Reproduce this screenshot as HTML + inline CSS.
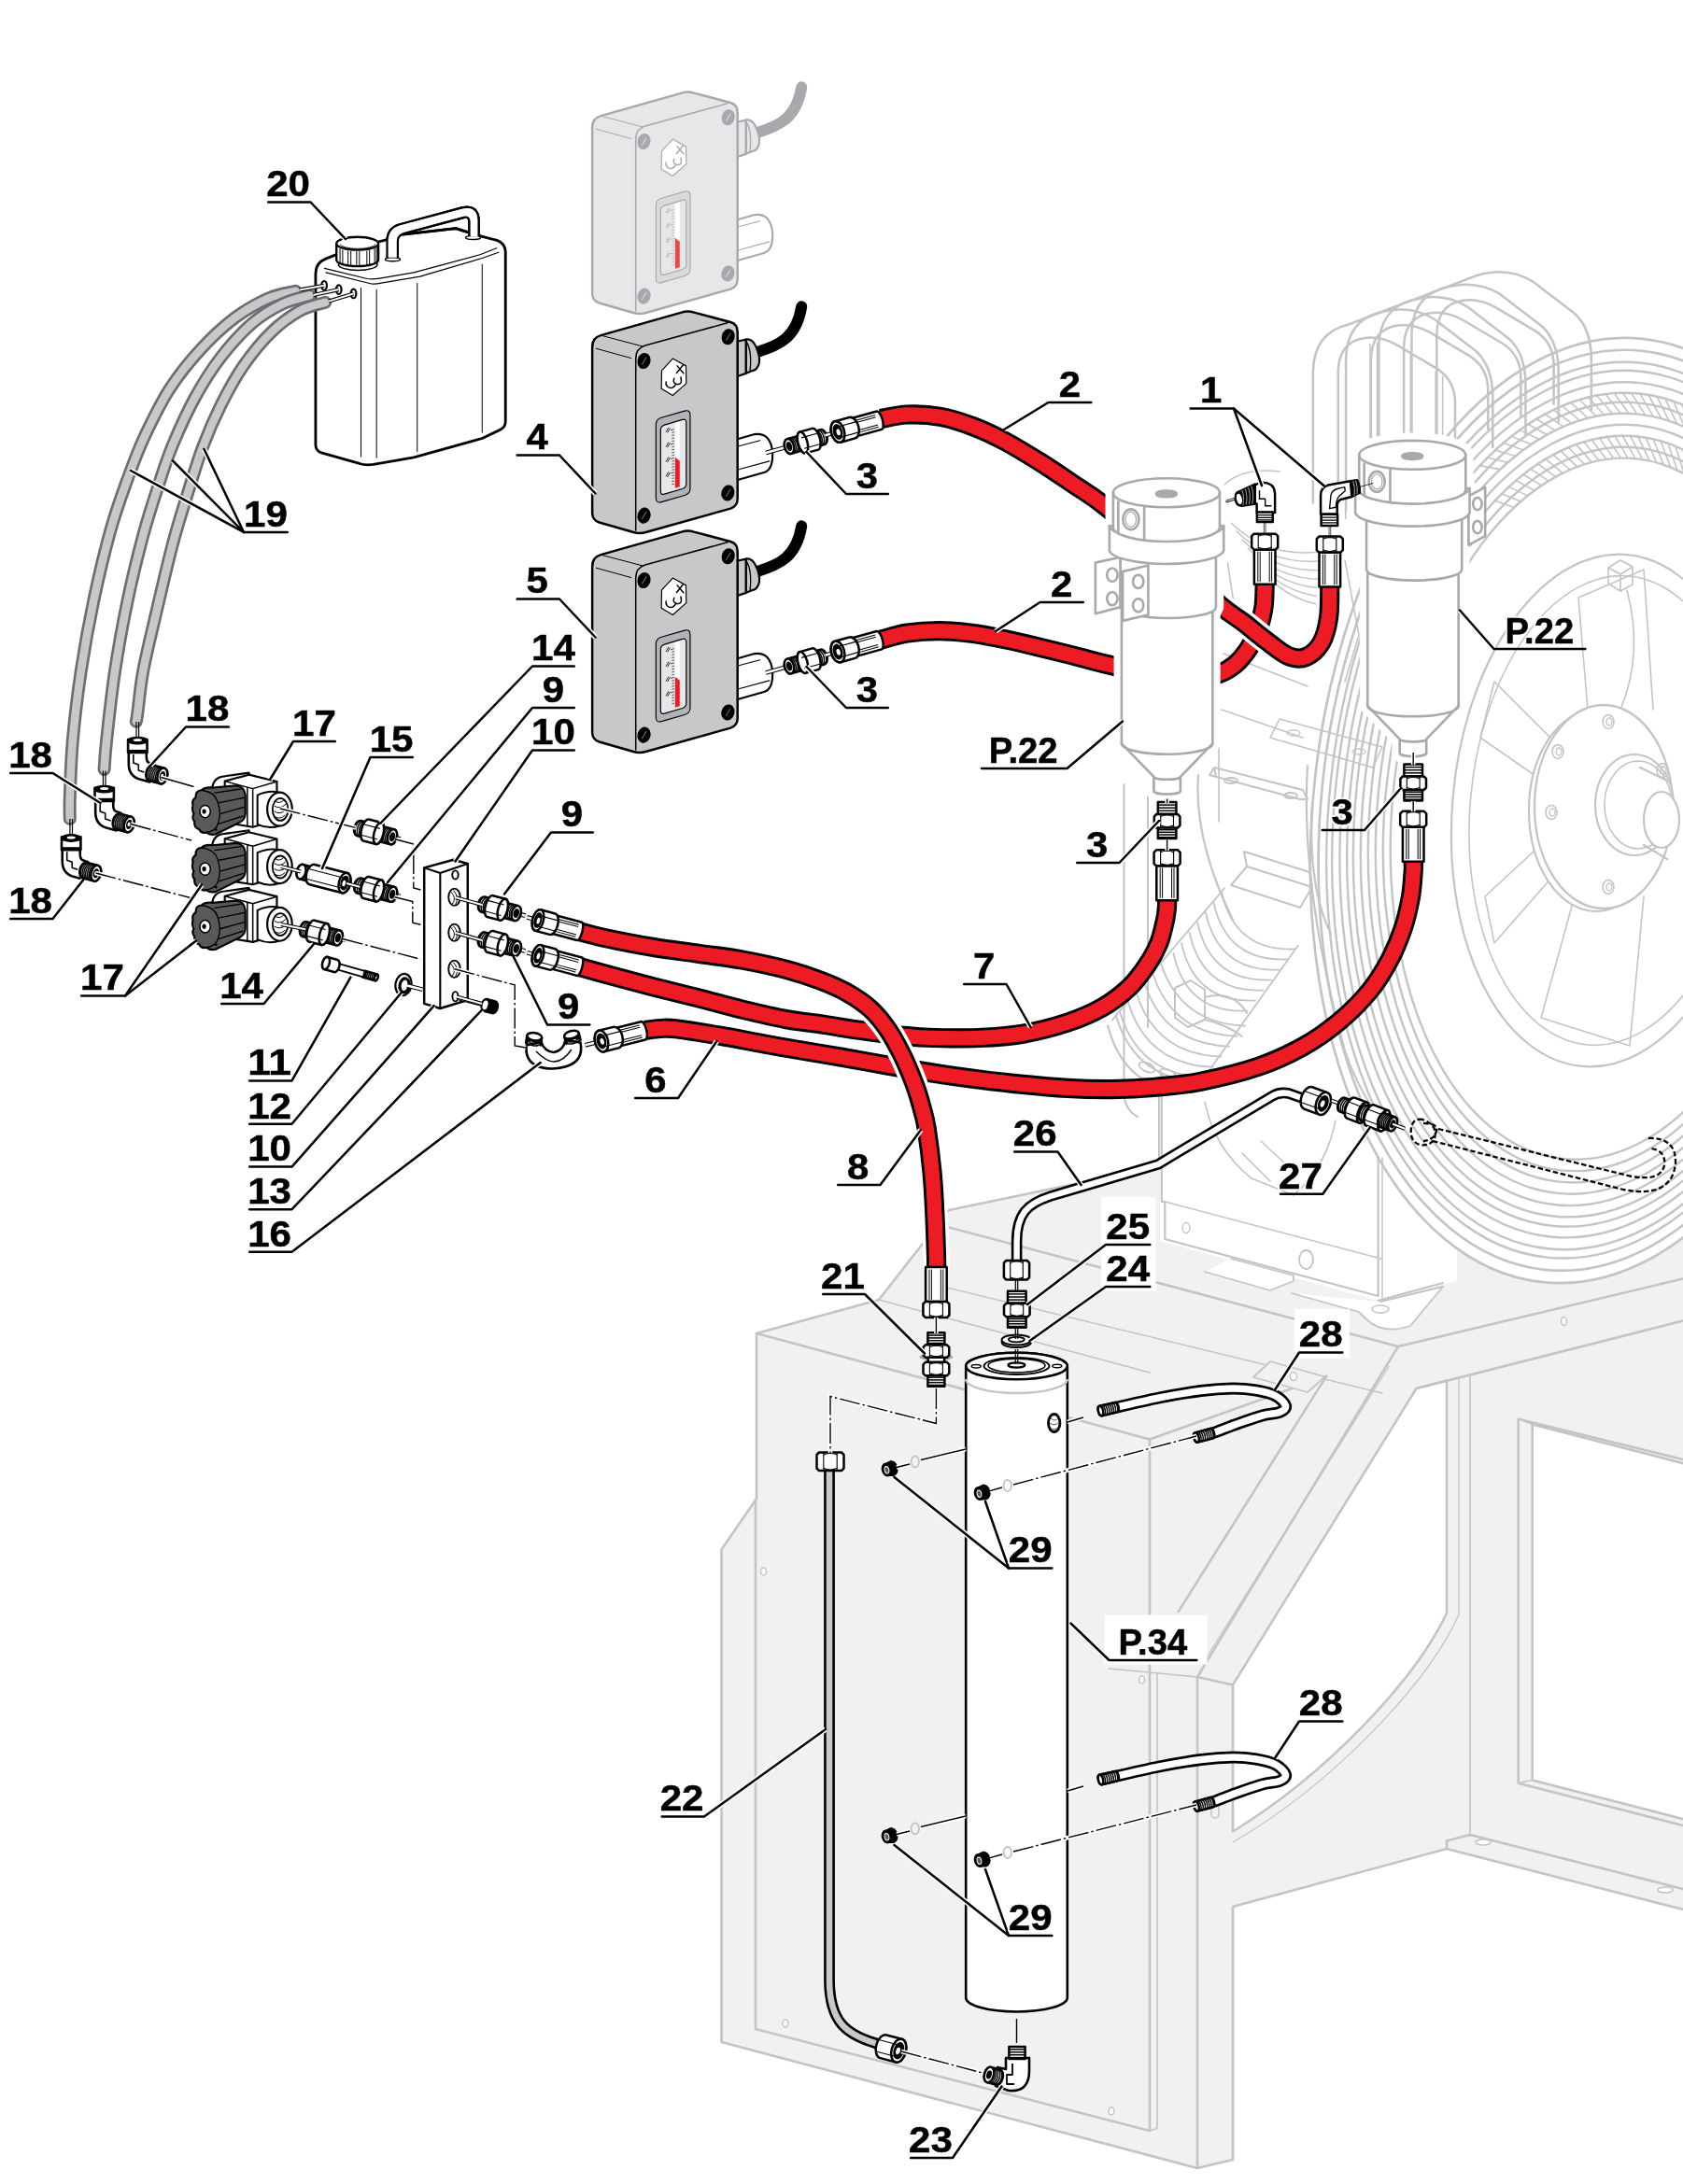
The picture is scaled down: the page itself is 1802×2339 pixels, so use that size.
<!DOCTYPE html>
<html><head><meta charset="utf-8"><title>Parts diagram</title>
<style>
html,body{margin:0;padding:0;background:#fff;}
svg{display:block;will-change:transform;font-family:"Liberation Sans",sans-serif;font-weight:bold;}
.k{stroke:#000;fill:none;stroke-linecap:round;stroke-linejoin:round;}
.g{stroke:#c3c4c6;fill:none;stroke-linecap:round;stroke-linejoin:round;}
</style></head><body>
<svg xmlns="http://www.w3.org/2000/svg" width="1802" height="2339" viewBox="0 0 1802 2339">
<rect width="1802" height="2339" fill="#fff"/>
<!-- ===== FRAME (gray background) ===== -->
<g id="frame" stroke="#c3c4c6" stroke-width="2.6" stroke-linejoin="round" stroke-linecap="round" fill="#f1f1f1">
  <!-- overall silhouette -->
  <path d="M810,1428 L941,1392 L1016,1296 L1242,1249 L1815,1240 L1815,2048.3 L1549,1980 L1320,2042 L1320,2313 L1282,2322 L772.5,2187 L772.5,1659.5 L810,1605 Z"/>
  <!-- white openings -->
  <path d="M1320,1804.5 L1516.5,1487 L1549,1478.5 L1549,1727.5 C1515,1800 1420,1900 1320,1961.5 Z" fill="#fff"/>
  <path d="M1640.7,1525.4 L1815,1570.4 L1815,1951.4 L1640.7,1906.4 Z" fill="#fff"/>
  <g fill="none">
    <!-- front face lines -->
    <path d="M810,1428 L1231,1541.5 L1418.5,1474.5"/>
    <path d="M1231,1541.5 L1231,2282 L809,2173 L809,1606"/>
    <path d="M1239,1792 L1239,2279.5 L1231,2282" stroke-width="1.6"/>
    <path d="M1282,1796 L1282,2322"/>
    <path d="M1282,1796 L1320,1804.5"/>
    <!-- brace diagonals -->
    <path d="M1282,1796 L1497,1442"/>
    <path d="M1261.7,1726 L1420.3,1473.6" />
    <path d="M1290,1778 L1487,1463.5" stroke-width="1.2"/>
    <path d="M1187,1787 L1282,1796" stroke-width="1.6"/>
    <!-- top surface lines -->
    <path d="M941,1392 L1231,1470" stroke-width="1.6"/>
    <path d="M1016,1314.5 L1497,1442" />
    <path d="M1006,1377 L1480,1492" stroke-width="1.4"/>
    <!-- beam to the right -->
    <path d="M1497,1442 L1802,1369.5"/>
    <path d="M1516.5,1487 L1802,1414.5"/>
    <!-- gusset thin lines -->
    <path d="M1562,1475 L1562,1729 C1528,1805 1425,1912 1320,1973" stroke-width="1.3"/>
    <path d="M1574,1473 L1574,1966.5" stroke-width="1.6"/>
    <!-- right window inner frame -->
    <path d="M1625.7,1519.7 L1802,1563 M1625.7,1519.7 L1625.7,1909.7 L1802,1955" />
    <path d="M1625.7,1519.7 L1640.7,1525.4 M1625.7,1909.7 L1640.7,1906.4" stroke-width="1.4"/>
    <!-- bottom flange -->
    <path d="M1549,1971.5 L1574,1965 L1802,2023"/>
    <path d="M1549,1971.5 L1549,1980"/>
  </g>
  <!-- small plate w/ hole on top -->
  <path d="M1360,1458 L1418.5,1474.5 L1400,1491 L1342,1475 Z" fill="#f1f1f1" stroke-width="1.8"/>
  <g fill="#fff" stroke-width="1.5">
    <ellipse cx="1385" cy="1474" rx="3.5" ry="4.5"/>
    <ellipse cx="817.5" cy="1683" rx="3" ry="4"/>
    <ellipse cx="841" cy="2167" rx="3" ry="4"/>
    <ellipse cx="1190" cy="2261" rx="3" ry="4"/>
    <ellipse cx="1222.5" cy="1799" rx="3" ry="4"/>
    <ellipse cx="1674.5" cy="1415" rx="3" ry="4.5"/>
    <ellipse cx="1588" cy="1973" rx="8" ry="3"/>
    <ellipse cx="1783" cy="2024" rx="8" ry="3"/>
    <path d="M1297,1931 L1297,1943 A4,4 0 0 0 1305,1943 L1305,1931 A4,4 0 0 0 1297,1931Z" fill="none"/>
  </g>
</g>

<!-- compressor (gray background) -->
<g id="compressor" stroke="#c3c4c6" stroke-width="2.2" fill="none" stroke-linejoin="round" stroke-linecap="round">
<ellipse cx="1705" cy="868" rx="299" ry="508" transform="rotate(6.04 1705 868)" fill="#fff" stroke="none"/>
<path d="M1242,1153 L1242,1329 L1475,1393 L1560,1372 L1560,1100 L1400,1000 Z" fill="#fff" stroke="none"/>
<path d="M1243.8,1150 L1243.8,1287 L1247.3,1287 L1247.3,1327 L1475.6,1388 L1475.6,1240" />
<path d="M1247.3,1287 L1479.6,1348.3" stroke-width="1.5"/>
<path d="M1475,1393 L1545,1374" />
<path d="M1480,1240 L1480,1390" stroke-width="1.5"/>
<ellipse cx="1270" cy="1315" rx="4" ry="5.5" stroke-width="1.5"/><ellipse cx="1398.5" cy="1349" rx="7.5" ry="10" stroke-width="1.8"/>
<path d="M1290,1362 L1360,1382 L1385,1372 L1385,1366 L1318,1348" fill="#fff" stroke-width="1.8"/>
<path d="M1383,1385 L1455,1405 L1462,1412 Q1480,1430 1510,1420 L1545,1378 L1478,1394" fill="#fff" stroke-width="1.8"/>
<ellipse cx="1478" cy="1402" rx="9" ry="4" stroke-width="1.5"/>
<ellipse cx="1705.0" cy="868.0" rx="299.0" ry="508.0" transform="rotate(6.04 1705 868)" stroke-width="2.7"/>
<ellipse cx="1705.8" cy="867.7" rx="291.2" ry="494.8" transform="rotate(6.04 1705 868)" stroke-width="2.7"/>
<ellipse cx="1706.6" cy="867.5" rx="283.5" ry="481.6" transform="rotate(6.04 1705 868)" stroke-width="2.4"/>
<ellipse cx="1707.1" cy="867.3" rx="278.1" ry="472.4" transform="rotate(6.04 1705 868)" stroke-width="2.4"/>
<ellipse cx="1707.8" cy="867.0" rx="270.6" ry="459.7" transform="rotate(6.04 1705 868)" stroke-width="2.4"/>
<ellipse cx="1708.5" cy="866.8" rx="263.7" ry="448.1" transform="rotate(6.04 1705 868)" stroke-width="2.4"/>
<ellipse cx="1709.1" cy="866.6" rx="257.7" ry="437.9" transform="rotate(6.04 1705 868)" stroke-width="2.4"/>
<ellipse cx="1709.9" cy="866.4" rx="250.6" ry="425.7" transform="rotate(6.04 1705 868)" stroke-width="2.4"/>
<ellipse cx="1710.6" cy="866.1" rx="243.4" ry="413.5" transform="rotate(6.04 1705 868)" stroke-width="2.4"/>
<ellipse cx="1711.3" cy="865.9" rx="236.2" ry="401.3" transform="rotate(6.04 1705 868)" stroke-width="2.4"/>
<ellipse cx="1712.0" cy="865.7" rx="229.0" ry="389.1" transform="rotate(6.04 1705 868)" stroke-width="2.4"/>
<ellipse cx="1712.7" cy="865.4" rx="221.9" ry="376.9" transform="rotate(6.04 1705 868)" stroke-width="2.4"/>
<ellipse cx="1718" cy="868" rx="163" ry="275" transform="rotate(5 1718 868)" fill="#fff" stroke-width="2.2"/>
<ellipse cx="1722" cy="868" rx="148" ry="252" transform="rotate(5 1722 868)" stroke-width="1.6"/>
<path d="M1650,835 L1585,790 L1600,730 L1660,790 M1655,900 L1590,960 L1600,1010 L1670,930 M1690,945 L1650,1090 L1745,1120 L1760,960 M1700,760 L1690,640 L1760,610 L1770,760" stroke-width="1.6"/>
<path d="M1722,625 L1722,608 L1735,600 L1748,607 L1748,626 L1735,633 Z M1722,608 L1735,615 L1748,607 M1735,615 L1735,633" stroke-width="1.6"/>
<path d="M1742,632 Q1760,700 1735,760" stroke-width="1.6"/>
<ellipse cx="1709" cy="868" rx="72" ry="108" fill="#fff" stroke-width="2.2"/>
<ellipse cx="1717" cy="864" rx="74" ry="109" fill="#fff" stroke-width="2.4"/>
<ellipse cx="1750" cy="862" rx="42" ry="54" fill="#fff" stroke-width="2"/>
<ellipse cx="1754" cy="862" rx="36" ry="47" stroke-width="1.5"/>
<path d="M1756,822 L1785,836 M1760,905 L1785,920" stroke-width="2.2"/>
<ellipse cx="1779" cy="878" rx="19" ry="30" fill="#fff" stroke-width="2.2"/>
<ellipse cx="1722" cy="773" rx="6" ry="7.5" stroke-width="1.6"/><ellipse cx="1723" cy="773" rx="3" ry="4" stroke-width="1.3"/><ellipse cx="1661" cy="870" rx="6" ry="7.5" stroke-width="1.6"/><ellipse cx="1662" cy="870" rx="3" ry="4" stroke-width="1.3"/><ellipse cx="1722" cy="950" rx="6" ry="7.5" stroke-width="1.6"/><ellipse cx="1723" cy="950" rx="3" ry="4" stroke-width="1.3"/><ellipse cx="1780" cy="825" rx="6" ry="7.5" stroke-width="1.6"/><ellipse cx="1781" cy="825" rx="3" ry="4" stroke-width="1.3"/><ellipse cx="1668" cy="805" rx="6" ry="7.5" stroke-width="1.6"/><ellipse cx="1669" cy="805" rx="3" ry="4" stroke-width="1.3"/>
<path d="M1584.2,498.6 L1605.6,502.6 M1592.5,490.0 L1613.8,495.2 M1601.0,481.9 L1622.0,488.2 M1609.5,474.3 L1630.3,481.8 M1618.2,467.1 L1638.8,475.8 M1627.0,460.4 L1647.3,470.2 M1635.9,454.2 L1655.9,465.2 M1644.9,448.5 L1664.6,460.6 M1654.0,443.3 L1673.3,456.6 M1663.1,438.6 L1682.0,453.0 M1672.3,434.5 L1690.8,449.9 M1681.6,430.9 L1699.7,447.4 M1690.8,427.8 L1708.5,445.3 M1700.1,425.2 L1717.3,443.8 M1709.4,423.2 L1726.2,442.8 M1718.7,421.7 L1735.0,442.3 M1728.0,420.8 L1743.7,442.3 M1737.3,420.4 L1752.5,442.8 M1746.5,420.6 L1761.2,443.9 M1755.7,421.3 L1769.8,445.4 M1764.8,422.5 L1778.3,447.5 M1773.9,424.3 L1786.8,450.1 M1782.8,426.6 L1795.2,453.2 M1791.7,429.4 L1803.4,456.8 M1800.5,432.8 L1811.6,460.9 M1600.0,536.1 L1620.5,543.3 M1607.4,528.4 L1627.6,536.7 M1615.0,521.1 L1634.9,530.6 M1622.6,514.3 L1642.3,524.9 M1630.4,507.8 L1649.8,519.5 M1638.3,501.9 L1657.3,514.6 M1646.3,496.3 L1665.0,510.2 M1654.3,491.2 L1672.6,506.1 M1662.5,486.6 L1680.3,502.5 M1670.6,482.4 L1688.1,499.4 M1678.9,478.7 L1695.9,496.7 M1687.1,475.4 L1703.7,494.4 M1695.4,472.6 L1711.5,492.6 M1703.8,470.4 L1719.4,491.2 M1712.1,468.6 L1727.2,490.3 M1720.4,467.2 L1735.0,489.9 M1728.7,466.4 L1742.7,489.9 M1737.0,466.0 L1750.5,490.4 M1745.3,466.2 L1758.2,491.3 M1753.5,466.8 L1765.8,492.7 M1761.7,467.9 L1773.4,494.5 M1769.8,469.5 L1780.9,496.8 M1777.9,471.6 L1788.3,499.6 M1785.8,474.2 L1795.6,502.8 M1793.7,477.2 L1802.8,506.4 M1801.4,480.7 L1809.9,510.4 " stroke-width="1.6"/>
<g transform="translate(1300,300) scale(0.29827)" stroke-width="8.5">
<path d="M355,800 L355,330 Q357,190 480,160 L590,118 Q700,85 790,140 L940,255 Q1000,310 1000,420 L1000,600"/><path d="M445,800 L445,330 Q447,222 540,208 Q600,200 660,235 L800,318 Q865,360 865,440 L865,580"/>
<path d="M473,855 L473,285 Q475,145 598,115 L708,73 Q818,40 908,95 L1058,210 Q1118,265 1118,375 L1118,555"/><path d="M563,755 L563,285 Q565,177 658,163 Q718,155 778,190 L918,273 Q983,315 983,395 L983,535"/>
<path d="M591,810 L591,240 Q593,100 716,70 L826,28 Q936,-5 1026,50 L1176,165 Q1236,220 1236,330 L1236,510"/><path d="M681,710 L681,240 Q683,132 776,118 Q836,110 896,145 L1036,228 Q1101,270 1101,350 L1101,490"/>
<path d="M709,765 L709,195 Q711,55 834,25 L944,-17 Q1054,-50 1144,5 L1294,120 Q1354,175 1354,285 L1354,465"/><path d="M799,665 L799,195 Q801,87 894,73 Q954,65 1014,100 L1154,183 Q1219,225 1219,305 L1219,445"/>
<path d="M560,800 L560,230 M585,800 L585,225 M680,800 L680,255 M705,800 L705,268 M795,800 L795,330 M820,800 L820,345" stroke-width="5"/>
</g>
<g stroke-width="1.8"><path d="M1386.9,1016.5 Q1321.6,1018.9 1308.0,955.1"/><path d="M1378.3,1027.5 Q1313.0,1030.0 1299.4,966.1"/><path d="M1369.7,1038.6 Q1304.5,1041.0 1290.8,977.1"/><path d="M1361.1,1049.6 Q1295.9,1052.0 1282.2,988.1"/><path d="M1352.5,1060.6 Q1287.3,1063.0 1273.7,999.2"/><path d="M1344.0,1071.6 Q1278.7,1074.0 1265.1,1010.2"/><path d="M1335.4,1082.6 Q1270.1,1085.1 1256.5,1021.2"/><path d="M1333.1,1098.6 Q1261.5,1096.1 1241.6,1027.3"/><path d="M1324.5,1109.6 Q1253.0,1107.1 1233.0,1038.3"/><path d="M1315.9,1120.6 Q1244.4,1118.1 1224.4,1049.3"/><path d="M1307.4,1131.6 Q1235.8,1129.1 1215.8,1060.4"/><path d="M1298.8,1142.7 Q1227.2,1140.2 1207.3,1071.4"/><path d="M1290.2,1153.7 Q1218.6,1151.2 1198.7,1082.4"/><path d="M1389.8,1012.7 L1282.2,1163.9 M1311.0,951.3 L1190.7,1092.7"/><path d="M1277.8,1169.6 Q1204.3,1169.5 1186.2,1098.4" stroke-width="2.2"/><path d="M1286.4,1158.6 Q1214.8,1156.1 1194.8,1087.3" stroke-width="2"/><ellipse cx="1228" cy="1143" rx="9" ry="4.5" transform="rotate(25 1228 1143)"/><ellipse cx="1250" cy="1150" rx="9" ry="4.5" transform="rotate(20 1250 1150)"/><path d="M1258,1058 L1258,1090 L1272,1100 L1290,1092 L1290,1060 L1275,1050 Z M1290,1068 Q1320,1060 1335,1085 M1290,1092 Q1315,1098 1330,1110" stroke-width="2"/><path d="M1318,948 L1335,928 L1405,950 L1392,972 Z M1335,928 L1332,912 L1402,934 L1405,950" stroke-width="2"/><path d="M1295,830 L1300,822 L1395,846 L1400,856 M1300,822 L1302,832 M1295,830 L1392,856 L1400,856" stroke-width="2"/><ellipse cx="1318" cy="836" rx="7" ry="3"/><ellipse cx="1382" cy="852" rx="7" ry="3"/><path d="M1283,830 Q1278,900 1320,985 M1405,860 Q1400,950 1425,1000 M1400,820 Q1392,950 1440,1125 Q1455,1170 1480,1200" stroke-width="2.2"/></g>
<g stroke-width="1.6"><path d="M1290,1180 Q1300,1230 1340,1262 L1385,1280 Q1420,1250 1430,1200 M1330,1235 L1360,1265 M1350,1222 L1380,1250"/></g>
<g stroke-width="1.6"><path d="M1318,560 Q1360,600 1420,590"/><path d="M1324,569 Q1364,608 1422,600"/><path d="M1330,578 Q1368,616 1424,610"/><path d="M1336,587 Q1372,624 1426,620"/><path d="M1342,596 Q1376,632 1428,630"/><path d="M1348,605 Q1380,640 1430,640"/><path d="M1354,614 Q1384,648 1432,650"/><path d="M1310,520 Q1330,500 1370,505 M1308,560 L1320,640 L1345,700 M1440,600 L1455,680 L1440,730"/></g>
<path d="M1305,690 L1305,880 M1310,700 L1400,735 M1308,760 L1395,790" stroke-width="1.6"/>
<path d="M1360,790 L1370,770 L1480,800 L1470,822 Z" stroke-width="1.6"/><ellipse cx="1385" cy="785" rx="7" ry="3" stroke-width="1.3"/><ellipse cx="1455" cy="805" rx="7" ry="3" stroke-width="1.3"/>
<path d="M1203.5,840 L1203.5,1175 Q1206,1190 1218,1196 M1229,850 L1229,1100 M1241,1170 L1241,1250" stroke-width="2"/>
</g>

<!-- hoses behind filters -->
<g id="hosesback">
<path d="M942.8,685.2 C947.5,684.0 960.6,679.7 971.3,678.1 C982.0,676.5 995.1,675.6 1007.0,675.7 C1018.9,675.8 1030.7,677.0 1042.6,678.6 C1054.5,680.2 1066.4,682.7 1078.3,685.2 C1090.2,687.7 1102.0,690.6 1113.9,693.5 C1125.8,696.4 1136.4,699.0 1149.6,702.3 C1162.8,705.6 1176.1,709.7 1192.8,713.3 C1209.5,716.9 1234.6,721.9 1250.0,724.0 C1265.4,726.1 1275.7,726.4 1285.0,726.0 C1294.3,725.6 1299.7,723.8 1305.9,721.4 C1312.1,719.0 1317.0,716.2 1322.1,711.9 C1327.2,707.5 1332.2,701.6 1336.4,695.3 C1340.6,689.0 1344.3,681.4 1347.1,673.9 C1349.9,666.4 1351.8,658.2 1353.0,650.1 C1354.2,642.0 1354.0,629.6 1354.2,625.5" fill="none" stroke="#000" stroke-width="21.2" stroke-linecap="butt"/>
<path d="M942.8,685.2 C947.5,684.0 960.6,679.7 971.3,678.1 C982.0,676.5 995.1,675.6 1007.0,675.7 C1018.9,675.8 1030.7,677.0 1042.6,678.6 C1054.5,680.2 1066.4,682.7 1078.3,685.2 C1090.2,687.7 1102.0,690.6 1113.9,693.5 C1125.8,696.4 1136.4,699.0 1149.6,702.3 C1162.8,705.6 1176.1,709.7 1192.8,713.3 C1209.5,716.9 1234.6,721.9 1250.0,724.0 C1265.4,726.1 1275.7,726.4 1285.0,726.0 C1294.3,725.6 1299.7,723.8 1305.9,721.4 C1312.1,719.0 1317.0,716.2 1322.1,711.9 C1327.2,707.5 1332.2,701.6 1336.4,695.3 C1340.6,689.0 1344.3,681.4 1347.1,673.9 C1349.9,666.4 1351.8,658.2 1353.0,650.1 C1354.2,642.0 1354.0,629.6 1354.2,625.5" fill="none" stroke="#ed1c24" stroke-width="15.4" stroke-linecap="butt"/>
<path d="M942.8,448.7 C947.5,447.9 960.6,444.4 971.3,444.0 C982.0,443.6 995.1,444.1 1007.0,446.3 C1018.9,448.5 1031.1,452.6 1042.6,457.0 C1054.1,461.4 1064.0,466.1 1075.9,472.5 C1087.8,478.9 1101.6,487.4 1113.9,495.1 C1126.2,502.8 1137.9,510.9 1149.6,518.8 C1161.3,526.7 1167.3,529.4 1184.0,542.6 C1200.7,555.8 1229.7,580.5 1250.0,598.0 C1270.3,615.5 1292.3,636.3 1305.9,647.8 C1319.5,659.3 1323.3,660.5 1331.6,666.8 C1339.8,673.1 1347.5,679.9 1355.4,685.8 C1363.3,691.7 1372.1,699.4 1379.2,702.4 C1386.3,705.4 1392.3,706.0 1398.2,703.6 C1404.1,701.2 1410.8,695.1 1414.8,688.2 C1418.8,681.3 1421.0,672.0 1422.5,662.0 C1424.0,652.0 1423.6,634.1 1423.8,628.5" fill="none" stroke="#fff" stroke-width="28.2" stroke-linecap="butt"/>
<path d="M942.8,448.7 C947.5,447.9 960.6,444.4 971.3,444.0 C982.0,443.6 995.1,444.1 1007.0,446.3 C1018.9,448.5 1031.1,452.6 1042.6,457.0 C1054.1,461.4 1064.0,466.1 1075.9,472.5 C1087.8,478.9 1101.6,487.4 1113.9,495.1 C1126.2,502.8 1137.9,510.9 1149.6,518.8 C1161.3,526.7 1167.3,529.4 1184.0,542.6 C1200.7,555.8 1229.7,580.5 1250.0,598.0 C1270.3,615.5 1292.3,636.3 1305.9,647.8 C1319.5,659.3 1323.3,660.5 1331.6,666.8 C1339.8,673.1 1347.5,679.9 1355.4,685.8 C1363.3,691.7 1372.1,699.4 1379.2,702.4 C1386.3,705.4 1392.3,706.0 1398.2,703.6 C1404.1,701.2 1410.8,695.1 1414.8,688.2 C1418.8,681.3 1421.0,672.0 1422.5,662.0 C1424.0,652.0 1423.6,634.1 1423.8,628.5" fill="none" stroke="#000" stroke-width="21.2" stroke-linecap="butt"/>
<path d="M942.8,448.7 C947.5,447.9 960.6,444.4 971.3,444.0 C982.0,443.6 995.1,444.1 1007.0,446.3 C1018.9,448.5 1031.1,452.6 1042.6,457.0 C1054.1,461.4 1064.0,466.1 1075.9,472.5 C1087.8,478.9 1101.6,487.4 1113.9,495.1 C1126.2,502.8 1137.9,510.9 1149.6,518.8 C1161.3,526.7 1167.3,529.4 1184.0,542.6 C1200.7,555.8 1229.7,580.5 1250.0,598.0 C1270.3,615.5 1292.3,636.3 1305.9,647.8 C1319.5,659.3 1323.3,660.5 1331.6,666.8 C1339.8,673.1 1347.5,679.9 1355.4,685.8 C1363.3,691.7 1372.1,699.4 1379.2,702.4 C1386.3,705.4 1392.3,706.0 1398.2,703.6 C1404.1,701.2 1410.8,695.1 1414.8,688.2 C1418.8,681.3 1421.0,672.0 1422.5,662.0 C1424.0,652.0 1423.6,634.1 1423.8,628.5" fill="none" stroke="#ed1c24" stroke-width="15.4" stroke-linecap="butt"/>
</g>

<!-- ===== FILTERS P.22 ===== -->
<defs>
  <path id="filtSil" d="M92,285 A240,65 0 0 1 572,285 L572,435 L590,435 L590,545 A258,65 0 0 1 555,590 L555,800 L540,830 L540,1415 L395,1565 L395,1628 A60,15 0 0 1 275,1628 L275,1565 L130,1415 L130,850 L125,800 L125,600 A258,65 0 0 1 75,545 L75,435 L92,435 Z"/>
  <g id="filt">
    <!-- neck -->
    <path d="M275,1560 L275,1628 A60,15 0 0 0 395,1628 L395,1560 Z"/>
    <!-- body + cone -->
    <path d="M130,820 L130,1415 L275,1565 A60,12 0 0 0 395,1565 L540,1415 L540,820 Z"/>
    <path d="M130,1415 A205,48 0 0 0 540,1415" fill="none"/>
    <!-- band -->
    <path d="M125,570 L125,800 A215,50 0 0 0 555,800 L555,570 Z"/>
    <!-- collar -->
    <path d="M75,435 L75,545 A258,65 0 0 0 590,545 L590,435 Z"/>
    <path d="M75,435 A258,65 0 0 0 590,435" fill="none"/>
    <!-- cap -->
    <path d="M92,285 L92,440 A240,65 0 0 0 572,440 L572,285 A240,65 0 0 0 92,285 Z"/>
    <path d="M92,285 A240,65 0 0 0 572,285" fill="none"/>
    <path d="M115,325 L115,468 M232,353 L232,497" fill="none"/>
    <ellipse cx="172" cy="405" rx="36" ry="46" fill="none"/>
    <ellipse cx="172" cy="405" rx="24" ry="34" fill="none" stroke-width="5"/>
    <ellipse cx="332" cy="290" rx="46" ry="14" fill="#a7a9ac"/>
  </g>
</defs>
<g id="filters" transform="translate(1170,460) scale(0.23767)" stroke="#a7a9ac" stroke-width="11" fill="#fff" stroke-linejoin="round" stroke-linecap="round">
  <!-- right filter -->
  <g transform="translate(1108,-170)">
    <use href="#filtSil" stroke="#fff" stroke-width="70"/>
    <!-- bracket on right -->
    <path d="M585,470 L660,430 L660,650 L585,690 Z"/>
    <ellipse cx="625" cy="505" rx="20" ry="28"/>
    <ellipse cx="625" cy="610" rx="20" ry="28"/>
    <use href="#filt"/>
  </g>
  <!-- left filter -->
  <g>
    <use href="#filtSil" stroke="#fff" stroke-width="70"/>
    <path d="M12,600 L125,575 L125,800 L12,830 Z" stroke="#fff" stroke-width="60"/>
    <path d="M12,600 L125,575 L125,800 L12,830 Z"/>
    <ellipse cx="88" cy="655" rx="24" ry="30"/>
    <ellipse cx="88" cy="762" rx="24" ry="30"/>
    <use href="#filt"/>
    <path d="M135,640 L250,612 L250,835 L135,862 Z"/>
    <ellipse cx="205" cy="685" rx="24" ry="30"/>
    <ellipse cx="205" cy="792" rx="24" ry="30"/>
  </g>
</g>

<!-- hoses front -->
<g id="hosesfront">
<path d="M690.3,1103.5 C693.1,1103.2 701.4,1101.8 707.0,1101.5 C712.6,1101.2 713.1,1100.5 723.8,1101.8 C734.5,1103.1 755.5,1106.5 771.3,1109.2 C787.1,1111.9 802.9,1115.2 818.8,1118.1 C834.6,1121.0 852.9,1124.1 866.4,1126.4 C879.9,1128.7 886.1,1129.6 900.0,1132.0 C913.9,1134.4 933.3,1138.1 950.0,1141.0 C966.7,1143.9 983.8,1146.8 1000.0,1149.3 C1016.2,1151.8 1031.7,1153.9 1047.5,1155.9 C1063.3,1157.9 1079.2,1159.8 1095.1,1161.4 C1110.9,1163.0 1126.8,1164.5 1142.6,1165.4 C1158.4,1166.3 1174.2,1166.8 1190.1,1166.6 C1205.9,1166.4 1221.8,1165.6 1237.7,1164.2 C1253.6,1162.8 1266.9,1162.0 1285.2,1158.3 C1303.5,1154.6 1329.2,1148.4 1347.5,1142.2 C1365.8,1136.0 1380.8,1128.8 1395.1,1120.9 C1409.4,1113.0 1421.2,1104.6 1433.1,1094.7 C1445.0,1084.8 1457.3,1072.5 1466.4,1061.4 C1475.5,1050.3 1481.9,1039.3 1487.8,1028.2 C1493.7,1017.1 1498.2,1006.0 1502.0,994.9 C1505.8,983.8 1508.4,971.9 1510.3,961.6 C1512.2,951.3 1512.7,939.6 1513.2,933.1 C1513.7,926.6 1513.2,924.2 1513.2,922.4" fill="none" stroke="#000" stroke-width="21.2" stroke-linecap="butt"/>
<path d="M690.3,1103.5 C693.1,1103.2 701.4,1101.8 707.0,1101.5 C712.6,1101.2 713.1,1100.5 723.8,1101.8 C734.5,1103.1 755.5,1106.5 771.3,1109.2 C787.1,1111.9 802.9,1115.2 818.8,1118.1 C834.6,1121.0 852.9,1124.1 866.4,1126.4 C879.9,1128.7 886.1,1129.6 900.0,1132.0 C913.9,1134.4 933.3,1138.1 950.0,1141.0 C966.7,1143.9 983.8,1146.8 1000.0,1149.3 C1016.2,1151.8 1031.7,1153.9 1047.5,1155.9 C1063.3,1157.9 1079.2,1159.8 1095.1,1161.4 C1110.9,1163.0 1126.8,1164.5 1142.6,1165.4 C1158.4,1166.3 1174.2,1166.8 1190.1,1166.6 C1205.9,1166.4 1221.8,1165.6 1237.7,1164.2 C1253.6,1162.8 1266.9,1162.0 1285.2,1158.3 C1303.5,1154.6 1329.2,1148.4 1347.5,1142.2 C1365.8,1136.0 1380.8,1128.8 1395.1,1120.9 C1409.4,1113.0 1421.2,1104.6 1433.1,1094.7 C1445.0,1084.8 1457.3,1072.5 1466.4,1061.4 C1475.5,1050.3 1481.9,1039.3 1487.8,1028.2 C1493.7,1017.1 1498.2,1006.0 1502.0,994.9 C1505.8,983.8 1508.4,971.9 1510.3,961.6 C1512.2,951.3 1512.7,939.6 1513.2,933.1 C1513.7,926.6 1513.2,924.2 1513.2,922.4" fill="none" stroke="#ed1c24" stroke-width="15.4" stroke-linecap="butt"/>
<path d="M614.3,1033.8 C619.8,1035.3 633.2,1039.1 647.5,1043.0 C661.8,1046.9 683.3,1052.7 700.0,1057.0 C716.7,1061.3 731.7,1064.8 747.5,1068.8 C763.3,1072.8 779.1,1077.4 795.0,1081.2 C810.9,1085.0 828.4,1089.1 842.6,1091.7 C856.8,1094.3 870.4,1095.5 880.0,1096.9 C889.6,1098.3 892.4,1099.1 900.0,1100.3 C907.6,1101.5 914.2,1102.5 925.6,1104.0 C937.0,1105.5 956.0,1108.2 968.4,1109.4 C980.8,1110.7 986.8,1111.2 1000.0,1111.5 C1013.2,1111.8 1031.7,1112.2 1047.5,1111.5 C1063.3,1110.8 1079.2,1109.9 1095.1,1107.2 C1110.9,1104.5 1128.3,1100.0 1142.6,1095.3 C1156.8,1090.5 1169.5,1085.0 1180.6,1078.7 C1191.7,1072.4 1201.3,1064.8 1209.2,1057.3 C1217.1,1049.8 1222.9,1041.4 1228.2,1033.5 C1233.5,1025.6 1237.8,1017.8 1241.0,1009.7 C1244.2,1001.6 1246.2,991.3 1247.6,985.0 C1249.0,978.7 1249.1,975.5 1249.4,972.0 C1249.7,968.5 1249.6,965.3 1249.6,964.0" fill="none" stroke="#000" stroke-width="21.2" stroke-linecap="butt"/>
<path d="M614.3,1033.8 C619.8,1035.3 633.2,1039.1 647.5,1043.0 C661.8,1046.9 683.3,1052.7 700.0,1057.0 C716.7,1061.3 731.7,1064.8 747.5,1068.8 C763.3,1072.8 779.1,1077.4 795.0,1081.2 C810.9,1085.0 828.4,1089.1 842.6,1091.7 C856.8,1094.3 870.4,1095.5 880.0,1096.9 C889.6,1098.3 892.4,1099.1 900.0,1100.3 C907.6,1101.5 914.2,1102.5 925.6,1104.0 C937.0,1105.5 956.0,1108.2 968.4,1109.4 C980.8,1110.7 986.8,1111.2 1000.0,1111.5 C1013.2,1111.8 1031.7,1112.2 1047.5,1111.5 C1063.3,1110.8 1079.2,1109.9 1095.1,1107.2 C1110.9,1104.5 1128.3,1100.0 1142.6,1095.3 C1156.8,1090.5 1169.5,1085.0 1180.6,1078.7 C1191.7,1072.4 1201.3,1064.8 1209.2,1057.3 C1217.1,1049.8 1222.9,1041.4 1228.2,1033.5 C1233.5,1025.6 1237.8,1017.8 1241.0,1009.7 C1244.2,1001.6 1246.2,991.3 1247.6,985.0 C1249.0,978.7 1249.1,975.5 1249.4,972.0 C1249.7,968.5 1249.6,965.3 1249.6,964.0" fill="none" stroke="#ed1c24" stroke-width="15.4" stroke-linecap="butt"/>
<path d="M614.3,996.0 C619.8,997.4 633.2,1001.4 647.5,1004.5 C661.8,1007.6 683.3,1011.7 700.0,1014.5 C716.7,1017.3 731.7,1018.9 747.5,1021.2 C763.3,1023.5 779.1,1025.2 795.0,1028.1 C810.9,1031.0 828.7,1034.8 842.6,1038.5 C856.5,1042.2 867.7,1046.1 878.3,1050.1 C888.9,1054.1 897.0,1057.4 906.0,1062.5 C915.0,1067.6 924.8,1073.9 932.3,1080.8 C939.8,1087.7 945.8,1095.6 951.3,1103.7 C956.8,1111.8 961.7,1121.6 965.6,1129.3 C969.5,1137.0 972.1,1143.5 974.8,1150.0 C977.5,1156.5 979.7,1162.3 981.8,1168.5 C983.9,1174.7 985.5,1180.4 987.2,1187.0 C988.9,1193.6 990.3,1196.6 992.1,1208.1 C993.9,1219.6 996.6,1240.2 998.1,1256.2 C999.6,1272.2 1000.3,1289.4 1001.0,1304.2 C1001.7,1319.0 1002.2,1335.7 1002.5,1345.0 C1002.8,1354.3 1002.6,1357.5 1002.6,1360.0" fill="none" stroke="#fff" stroke-width="28.2" stroke-linecap="butt"/>
<path d="M614.3,996.0 C619.8,997.4 633.2,1001.4 647.5,1004.5 C661.8,1007.6 683.3,1011.7 700.0,1014.5 C716.7,1017.3 731.7,1018.9 747.5,1021.2 C763.3,1023.5 779.1,1025.2 795.0,1028.1 C810.9,1031.0 828.7,1034.8 842.6,1038.5 C856.5,1042.2 867.7,1046.1 878.3,1050.1 C888.9,1054.1 897.0,1057.4 906.0,1062.5 C915.0,1067.6 924.8,1073.9 932.3,1080.8 C939.8,1087.7 945.8,1095.6 951.3,1103.7 C956.8,1111.8 961.7,1121.6 965.6,1129.3 C969.5,1137.0 972.1,1143.5 974.8,1150.0 C977.5,1156.5 979.7,1162.3 981.8,1168.5 C983.9,1174.7 985.5,1180.4 987.2,1187.0 C988.9,1193.6 990.3,1196.6 992.1,1208.1 C993.9,1219.6 996.6,1240.2 998.1,1256.2 C999.6,1272.2 1000.3,1289.4 1001.0,1304.2 C1001.7,1319.0 1002.2,1335.7 1002.5,1345.0 C1002.8,1354.3 1002.6,1357.5 1002.6,1360.0" fill="none" stroke="#000" stroke-width="21.2" stroke-linecap="butt"/>
<path d="M614.3,996.0 C619.8,997.4 633.2,1001.4 647.5,1004.5 C661.8,1007.6 683.3,1011.7 700.0,1014.5 C716.7,1017.3 731.7,1018.9 747.5,1021.2 C763.3,1023.5 779.1,1025.2 795.0,1028.1 C810.9,1031.0 828.7,1034.8 842.6,1038.5 C856.5,1042.2 867.7,1046.1 878.3,1050.1 C888.9,1054.1 897.0,1057.4 906.0,1062.5 C915.0,1067.6 924.8,1073.9 932.3,1080.8 C939.8,1087.7 945.8,1095.6 951.3,1103.7 C956.8,1111.8 961.7,1121.6 965.6,1129.3 C969.5,1137.0 972.1,1143.5 974.8,1150.0 C977.5,1156.5 979.7,1162.3 981.8,1168.5 C983.9,1174.7 985.5,1180.4 987.2,1187.0 C988.9,1193.6 990.3,1196.6 992.1,1208.1 C993.9,1219.6 996.6,1240.2 998.1,1256.2 C999.6,1272.2 1000.3,1289.4 1001.0,1304.2 C1001.7,1319.0 1002.2,1335.7 1002.5,1345.0 C1002.8,1354.3 1002.6,1357.5 1002.6,1360.0" fill="none" stroke="#ed1c24" stroke-width="15.4" stroke-linecap="butt"/>
</g>

<!-- boxes 4,5 and ghost -->
<g id="boxes">
<g transform="translate(620,85) scale(0.16636)" stroke="#a7a9ac" stroke-linejoin="round" stroke-linecap="round" fill="none">
<path d="M1140,345 C1290,300 1400,250 1432,50" stroke-width="72" />
<path d="M1015,275 L1075,262 L1075,480 L1015,500 Z" fill="#e6e7e8" stroke-width="13"/>
<path d="M1075,262 Q1110,255 1135,300 Q1165,360 1160,410 Q1150,455 1120,462 Q1100,470 1075,480 Z" fill="#e6e7e8" stroke-width="13"/>
<path d="M1075,275 Q1115,330 1100,470" stroke-width="8"/>
<path d="M1015,905 L1130,872 Q1235,860 1245,990 Q1250,1100 1190,1118 L1015,1168 Z" fill="#fff" stroke-width="13"/>
<path d="M1022,950 L1165,912 M1022,1100 L1225,1045" stroke-width="7"/>
<path d="M85,310 Q85,250 140,235 L660,88 Q700,75 740,88 L975,150 Q1020,162 1020,215 L1020,1290 Q1020,1335 975,1350 L430,1503 Q390,1515 350,1503 L130,1440 Q85,1425 85,1380 Z" fill="#e6e7e8" stroke-width="15"/>
<path d="M365,1490 L365,385 Q365,318 425,300 L955,155" stroke-width="9"/>
<path d="M150,238 L405,305" stroke-width="6"/>
<path d="M110,320 L335,382" stroke-width="6"/>
<ellipse cx="418" cy="400" rx="42" ry="52" fill="#a7a9ac" stroke="none" transform="rotate(15 418 400)"/>
<path d="M406,422 L432,378" stroke="#e6e7e8" stroke-width="6"/>
<ellipse cx="960" cy="245" rx="42" ry="52" fill="#a7a9ac" stroke="none" transform="rotate(15 960 245)"/>
<path d="M948,267 L974,223" stroke="#e6e7e8" stroke-width="6"/>
<ellipse cx="418" cy="1395" rx="42" ry="52" fill="#a7a9ac" stroke="none" transform="rotate(15 418 1395)"/>
<path d="M406,1417 L432,1373" stroke="#e6e7e8" stroke-width="6"/>
<ellipse cx="958" cy="1250" rx="42" ry="52" fill="#a7a9ac" stroke="none" transform="rotate(15 958 1250)"/>
<path d="M946,1272 L972,1228" stroke="#e6e7e8" stroke-width="6"/>
<path d="M603,385 L688,432 L690,545 L603,622 L530,578 L532,462 Z" fill="#fff" stroke-width="7"/>
<path d="M632,432 L672,480 M668,428 L628,478" stroke-width="9"/>
<path d="M655,505 Q668,560 625,548 Q600,540 612,512 M625,548 Q600,590 568,565 Q555,550 560,535" stroke-width="9"/>
<path d="M495,810 Q495,775 530,765 L680,722 Q715,712 715,750 L715,1222 Q715,1255 680,1265 L530,1308 Q495,1318 495,1282 Z" fill="#d9dadb" stroke-width="7"/>
<path d="M525,845 Q525,820 550,812 L665,778 Q690,770 690,798 L690,1190 Q690,1215 665,1223 L550,1257 Q525,1265 525,1238 Z" fill="#e6e7e8" stroke-width="7"/>
<path d="M618,800 L648,792 L648,1210 L618,1218 Z" fill="#fff" stroke="none"/>
<path d="M618,1020 L648,1045 L648,1210 L618,1218 Z" fill="#e8474c" stroke="none"/>
<path d="M592,845 L610,840 M600,861 L610,858 M600,880 L610,877 M600,898 L610,896 M600,917 L610,914 M592,937 L610,932 M600,954 L610,951 M600,972 L610,970 M600,991 L610,988 M600,1009 L610,1006 M592,1030 L610,1025 M600,1046 L610,1044 M600,1065 L610,1062 M600,1083 L610,1080 M600,1102 L610,1099 M592,1122 L610,1118 M600,1139 L610,1136 M600,1157 L610,1154 M600,1176 L610,1173 M600,1194 L610,1192 " stroke-width="4"/>
<path d="M560,857 L575,831 M570,860 L585,835" stroke-width="5"/>
<path d="M560,952 L575,926 M570,955 L585,930" stroke-width="5"/>
<path d="M560,1047 L575,1021 M570,1050 L585,1025" stroke-width="5"/>
<path d="M560,1142 L575,1116 M570,1145 L585,1120" stroke-width="5"/>
</g>
<g transform="translate(620,320) scale(0.16636)" stroke="#000" stroke-linejoin="round" stroke-linecap="round" fill="none">
<path d="M1140,345 C1290,300 1400,250 1432,50" stroke-width="72" />
<path d="M1015,275 L1075,262 L1075,480 L1015,500 Z" fill="#c7c8ca" stroke-width="13"/>
<path d="M1075,262 Q1110,255 1135,300 Q1165,360 1160,410 Q1150,455 1120,462 Q1100,470 1075,480 Z" fill="#c7c8ca" stroke-width="13"/>
<path d="M1075,275 Q1115,330 1100,470" stroke-width="8"/>
<path d="M1015,905 L1130,872 Q1235,860 1245,990 Q1250,1100 1190,1118 L1015,1168 Z" fill="#fff" stroke-width="13"/>
<path d="M1022,950 L1165,912 M1022,1100 L1225,1045" stroke-width="7"/>
<path d="M85,310 Q85,250 140,235 L660,88 Q700,75 740,88 L975,150 Q1020,162 1020,215 L1020,1290 Q1020,1335 975,1350 L430,1503 Q390,1515 350,1503 L130,1440 Q85,1425 85,1380 Z" fill="#c7c8ca" stroke-width="15"/>
<path d="M365,1490 L365,385 Q365,318 425,300 L955,155" stroke-width="9"/>
<path d="M150,238 L405,305" stroke-width="6"/>
<path d="M110,320 L335,382" stroke-width="6"/>
<ellipse cx="418" cy="400" rx="42" ry="52" fill="#000" stroke="none" transform="rotate(15 418 400)"/>
<path d="M406,422 L432,378" stroke="#808285" stroke-width="6"/>
<ellipse cx="960" cy="245" rx="42" ry="52" fill="#000" stroke="none" transform="rotate(15 960 245)"/>
<path d="M948,267 L974,223" stroke="#808285" stroke-width="6"/>
<ellipse cx="418" cy="1395" rx="42" ry="52" fill="#000" stroke="none" transform="rotate(15 418 1395)"/>
<path d="M406,1417 L432,1373" stroke="#808285" stroke-width="6"/>
<ellipse cx="958" cy="1250" rx="42" ry="52" fill="#000" stroke="none" transform="rotate(15 958 1250)"/>
<path d="M946,1272 L972,1228" stroke="#808285" stroke-width="6"/>
<path d="M603,385 L688,432 L690,545 L603,622 L530,578 L532,462 Z" fill="#fff" stroke-width="7"/>
<path d="M632,432 L672,480 M668,428 L628,478" stroke-width="9"/>
<path d="M655,505 Q668,560 625,548 Q600,540 612,512 M625,548 Q600,590 568,565 Q555,550 560,535" stroke-width="9"/>
<path d="M495,810 Q495,775 530,765 L680,722 Q715,712 715,750 L715,1222 Q715,1255 680,1265 L530,1308 Q495,1318 495,1282 Z" fill="#b1b3b6" stroke-width="7"/>
<path d="M525,845 Q525,820 550,812 L665,778 Q690,770 690,798 L690,1190 Q690,1215 665,1223 L550,1257 Q525,1265 525,1238 Z" fill="#e6e7e8" stroke-width="7"/>
<path d="M618,800 L648,792 L648,1210 L618,1218 Z" fill="#fff" stroke="none"/>
<path d="M618,1020 L648,1045 L648,1210 L618,1218 Z" fill="#ed1c24" stroke="none"/>
<path d="M592,845 L610,840 M600,861 L610,858 M600,880 L610,877 M600,898 L610,896 M600,917 L610,914 M592,937 L610,932 M600,954 L610,951 M600,972 L610,970 M600,991 L610,988 M600,1009 L610,1006 M592,1030 L610,1025 M600,1046 L610,1044 M600,1065 L610,1062 M600,1083 L610,1080 M600,1102 L610,1099 M592,1122 L610,1118 M600,1139 L610,1136 M600,1157 L610,1154 M600,1176 L610,1173 M600,1194 L610,1192 " stroke-width="4"/>
<path d="M560,857 L575,831 M570,860 L585,835" stroke-width="5"/>
<path d="M560,952 L575,926 M570,955 L585,930" stroke-width="5"/>
<path d="M560,1047 L575,1021 M570,1050 L585,1025" stroke-width="5"/>
<path d="M560,1142 L575,1116 M570,1145 L585,1120" stroke-width="5"/>
</g>
<g transform="translate(620,555) scale(0.16636)" stroke="#000" stroke-linejoin="round" stroke-linecap="round" fill="none">
<path d="M1140,345 C1290,300 1400,250 1432,50" stroke-width="72" />
<path d="M1015,275 L1075,262 L1075,480 L1015,500 Z" fill="#c7c8ca" stroke-width="13"/>
<path d="M1075,262 Q1110,255 1135,300 Q1165,360 1160,410 Q1150,455 1120,462 Q1100,470 1075,480 Z" fill="#c7c8ca" stroke-width="13"/>
<path d="M1075,275 Q1115,330 1100,470" stroke-width="8"/>
<path d="M1015,905 L1130,872 Q1235,860 1245,990 Q1250,1100 1190,1118 L1015,1168 Z" fill="#fff" stroke-width="13"/>
<path d="M1022,950 L1165,912 M1022,1100 L1225,1045" stroke-width="7"/>
<path d="M85,310 Q85,250 140,235 L660,88 Q700,75 740,88 L975,150 Q1020,162 1020,215 L1020,1290 Q1020,1335 975,1350 L430,1503 Q390,1515 350,1503 L130,1440 Q85,1425 85,1380 Z" fill="#c7c8ca" stroke-width="15"/>
<path d="M365,1490 L365,385 Q365,318 425,300 L955,155" stroke-width="9"/>
<path d="M150,238 L405,305" stroke-width="6"/>
<path d="M110,320 L335,382" stroke-width="6"/>
<ellipse cx="418" cy="400" rx="42" ry="52" fill="#000" stroke="none" transform="rotate(15 418 400)"/>
<path d="M406,422 L432,378" stroke="#808285" stroke-width="6"/>
<ellipse cx="960" cy="245" rx="42" ry="52" fill="#000" stroke="none" transform="rotate(15 960 245)"/>
<path d="M948,267 L974,223" stroke="#808285" stroke-width="6"/>
<ellipse cx="418" cy="1395" rx="42" ry="52" fill="#000" stroke="none" transform="rotate(15 418 1395)"/>
<path d="M406,1417 L432,1373" stroke="#808285" stroke-width="6"/>
<ellipse cx="958" cy="1250" rx="42" ry="52" fill="#000" stroke="none" transform="rotate(15 958 1250)"/>
<path d="M946,1272 L972,1228" stroke="#808285" stroke-width="6"/>
<path d="M603,385 L688,432 L690,545 L603,622 L530,578 L532,462 Z" fill="#fff" stroke-width="7"/>
<path d="M632,432 L672,480 M668,428 L628,478" stroke-width="9"/>
<path d="M655,505 Q668,560 625,548 Q600,540 612,512 M625,548 Q600,590 568,565 Q555,550 560,535" stroke-width="9"/>
<path d="M495,810 Q495,775 530,765 L680,722 Q715,712 715,750 L715,1222 Q715,1255 680,1265 L530,1308 Q495,1318 495,1282 Z" fill="#b1b3b6" stroke-width="7"/>
<path d="M525,845 Q525,820 550,812 L665,778 Q690,770 690,798 L690,1190 Q690,1215 665,1223 L550,1257 Q525,1265 525,1238 Z" fill="#e6e7e8" stroke-width="7"/>
<path d="M618,800 L648,792 L648,1210 L618,1218 Z" fill="#fff" stroke="none"/>
<path d="M618,1020 L648,1045 L648,1210 L618,1218 Z" fill="#ed1c24" stroke="none"/>
<path d="M592,845 L610,840 M600,861 L610,858 M600,880 L610,877 M600,898 L610,896 M600,917 L610,914 M592,937 L610,932 M600,954 L610,951 M600,972 L610,970 M600,991 L610,988 M600,1009 L610,1006 M592,1030 L610,1025 M600,1046 L610,1044 M600,1065 L610,1062 M600,1083 L610,1080 M600,1102 L610,1099 M592,1122 L610,1118 M600,1139 L610,1136 M600,1157 L610,1154 M600,1176 L610,1173 M600,1194 L610,1192 " stroke-width="4"/>
<path d="M560,857 L575,831 M570,860 L585,835" stroke-width="5"/>
<path d="M560,952 L575,926 M570,955 L585,930" stroke-width="5"/>
<path d="M560,1047 L575,1021 M570,1050 L585,1025" stroke-width="5"/>
<path d="M560,1142 L575,1116 M570,1145 L585,1120" stroke-width="5"/>
</g>
</g>

<!-- ===== TANK 20 ===== -->
<g id="tank" transform="translate(300,200) scale(0.16636)" stroke="#000" fill="#fff" stroke-linejoin="round" stroke-linecap="round">
  <!-- handle back leg / handle -->
  <path d="M690,468 L690,345 Q692,268 765,245 L1175,135 Q1272,115 1277,215 L1277,325 L1218,325 L1218,222 Q1216,188 1185,196 L795,300 Q755,312 755,350 L755,468 Z" stroke-width="17"/>
  <!-- body -->
  <path d="M228,560 Q228,490 290,465 L365,435 L640,352 L700,338 L760,310 L1130,268 L1290,318 L1395,345 Q1450,365 1450,420 L1450,1510 Q1450,1545 1420,1562 L1300,1620 L860,1742 L600,1788 Q545,1795 510,1782 L265,1712 Q228,1698 228,1660 Z" stroke-width="17"/>
  <!-- cover the back edge under handle -->
  <path d="M700,338 L760,310 L1130,268 L1290,318" fill="none" stroke-width="17"/>
  <!-- handle front redraw -->
  <path d="M690,468 L690,345 Q692,268 765,245 L1175,135 Q1272,115 1277,215 L1277,325 L1218,325 L1218,222 Q1216,188 1185,196 L795,300 Q755,312 755,350 L755,468 Z" stroke-width="17"/>
  <ellipse cx="724" cy="468" rx="48" ry="12" stroke-width="9"/>
  <ellipse cx="1242" cy="328" rx="48" ry="12" stroke-width="9"/>
  <path d="M695,455 L695,345 Q697,273 767,250 L1175,141 Q1266,122 1271,215 L1271,322 L1224,322 L1224,222 Q1221,182 1184,190 L793,294 Q750,308 750,350 L750,455 Z" stroke="none"/>
  <!-- top front edges -->
  <path d="M285,525 L560,592 Q590,598 640,590 L860,552 L1290,436 L1392,395" fill="none" stroke-width="7"/>
  <path d="M295,552 L575,622 Q600,630 650,620 L900,578 L1300,460 L1405,422" fill="none" stroke-width="7"/>
  <!-- vertical lines -->
  <path d="M520,652 L520,1738 M620,662 L620,1745 M882,622 L882,1705 M1300,500 L1300,1582" fill="none" stroke-width="6"/>
  <!-- holes -->
  <ellipse cx="283" cy="636" rx="17" ry="29" stroke-width="13"/>
  <ellipse cx="377" cy="662" rx="17" ry="29" stroke-width="13"/>
  <ellipse cx="472" cy="688" rx="17" ry="29" stroke-width="13"/>
  <!-- cap neck -->
  <ellipse cx="500" cy="500" rx="125" ry="38" stroke-width="9"/>
  <!-- cap -->
  <path d="M362,370 L362,470 A135,42 0 0 0 632,470 L632,370 Z" stroke-width="14"/>
  <ellipse cx="497" cy="365" rx="135" ry="42" stroke-width="14"/>
  <path d="M385,400 L385,490 M402,408 L402,496 M437,414 L437,504 M455,416 L455,506 M492,418 L492,510 M510,418 L510,510 M558,414 L558,504 M575,410 L575,500 M608,398 L608,488 M620,392 L620,480" fill="none" stroke-width="6"/>
  <path d="M385,372 A115,32 0 0 0 612,372" fill="none" stroke-width="5"/>
</g>

<!-- tubes 19 -->
<g id="tubes19">
<path d="M316.5,311.7 C311.7,313.0 298.6,314.5 287.8,319.3 C277.0,324.1 263.6,331.3 251.5,340.4 C239.4,349.5 226.9,361.1 215.3,373.7 C203.7,386.3 192.1,400.4 182.0,416.0 C171.9,431.6 162.4,451.3 154.8,467.4 C147.2,483.5 142.7,496.1 136.7,512.7 C130.7,529.3 124.6,545.5 118.6,567.1 C112.5,588.8 105.7,617.4 100.4,642.6 C95.1,667.8 90.6,693.0 86.8,718.2 C83.0,743.4 79.8,771.0 77.8,793.7 C75.8,816.4 75.3,840.3 74.8,854.2 C74.3,868.1 74.8,873.1 74.8,876.9" fill="none" stroke="#6d6e71" stroke-width="14.0" stroke-linecap="round"/>
<path d="M316.5,311.7 C311.7,313.0 298.6,314.5 287.8,319.3 C277.0,324.1 263.6,331.3 251.5,340.4 C239.4,349.5 226.9,361.1 215.3,373.7 C203.7,386.3 192.1,400.4 182.0,416.0 C171.9,431.6 162.4,451.3 154.8,467.4 C147.2,483.5 142.7,496.1 136.7,512.7 C130.7,529.3 124.6,545.5 118.6,567.1 C112.5,588.8 105.7,617.4 100.4,642.6 C95.1,667.8 90.6,693.0 86.8,718.2 C83.0,743.4 79.8,771.0 77.8,793.7 C75.8,816.4 75.3,840.3 74.8,854.2 C74.3,868.1 74.8,873.1 74.8,876.9" fill="none" stroke="#c7c8ca" stroke-width="8.6" stroke-linecap="round"/>
<path d="M331.6,316.3 C326.8,317.8 313.2,320.3 302.9,325.3 C292.6,330.3 280.8,336.9 269.7,346.5 C258.6,356.1 246.5,369.6 236.4,382.7 C226.3,395.8 217.8,409.4 209.2,425.0 C200.6,440.6 191.5,460.8 185.0,476.4 C178.5,492.0 175.3,502.6 170.0,518.7 C164.7,534.8 158.9,552.5 153.3,573.1 C147.8,593.8 141.7,618.4 136.7,642.6 C131.7,666.8 126.9,693.0 123.1,718.2 C119.3,743.4 115.9,776.1 114.0,793.7 C112.1,811.3 112.0,819.0 111.6,824.0" fill="none" stroke="#6d6e71" stroke-width="14.0" stroke-linecap="round"/>
<path d="M331.6,316.3 C326.8,317.8 313.2,320.3 302.9,325.3 C292.6,330.3 280.8,336.9 269.7,346.5 C258.6,356.1 246.5,369.6 236.4,382.7 C226.3,395.8 217.8,409.4 209.2,425.0 C200.6,440.6 191.5,460.8 185.0,476.4 C178.5,492.0 175.3,502.6 170.0,518.7 C164.7,534.8 158.9,552.5 153.3,573.1 C147.8,593.8 141.7,618.4 136.7,642.6 C131.7,666.8 126.9,693.0 123.1,718.2 C119.3,743.4 115.9,776.1 114.0,793.7 C112.1,811.3 112.0,819.0 111.6,824.0" fill="none" stroke="#c7c8ca" stroke-width="8.6" stroke-linecap="round"/>
<path d="M348.2,323.8 C343.7,325.3 330.6,327.6 321.0,332.9 C311.4,338.2 300.9,345.7 290.8,355.5 C280.7,365.3 269.7,378.7 260.6,391.8 C251.5,404.9 243.7,419.5 236.4,434.1 C229.1,448.7 222.8,463.3 216.8,479.4 C210.8,495.5 205.5,513.7 200.2,530.8 C194.9,547.9 190.6,561.1 185.0,582.2 C179.4,603.4 172.2,635.0 166.9,657.7 C161.6,680.4 156.6,700.6 153.3,718.2 C150.0,735.8 148.6,754.4 147.3,763.5 C146.1,772.6 146.1,771.1 145.8,772.6" fill="none" stroke="#6d6e71" stroke-width="14.0" stroke-linecap="round"/>
<path d="M348.2,323.8 C343.7,325.3 330.6,327.6 321.0,332.9 C311.4,338.2 300.9,345.7 290.8,355.5 C280.7,365.3 269.7,378.7 260.6,391.8 C251.5,404.9 243.7,419.5 236.4,434.1 C229.1,448.7 222.8,463.3 216.8,479.4 C210.8,495.5 205.5,513.7 200.2,530.8 C194.9,547.9 190.6,561.1 185.0,582.2 C179.4,603.4 172.2,635.0 166.9,657.7 C161.6,680.4 156.6,700.6 153.3,718.2 C150.0,735.8 148.6,754.4 147.3,763.5 C146.1,772.6 146.1,771.1 145.8,772.6" fill="none" stroke="#c7c8ca" stroke-width="8.6" stroke-linecap="round"/>
</g>

<!-- valves 17 -->
<g id="valves">
<g transform="translate(180,778.4) scale(0.16636)" stroke="#000" fill="#fff" stroke-linejoin="round" stroke-linecap="round">
<path d="M283,520 L283,400 Q290,322 365,318 L520,296 L545,398 Z" stroke-width="13"/>
<path d="M365,350 L520,308 L700,352 L700,600 L545,645 L440,628 L365,600 Z" stroke-width="13"/>
<path d="M365,350 L545,398 L700,352 M545,398 L545,645 M510,390 L510,640" fill="none" stroke-width="9"/>
<path d="M575,440 Q650,405 720,424 L720,636 Q650,662 575,628 Z" stroke-width="12"/>
<ellipse cx="718" cy="530" rx="80" ry="108" stroke-width="13"/>
<ellipse cx="722" cy="532" rx="50" ry="72" stroke-width="11"/>
<path d="M690,480 Q720,500 745,470 M685,510 Q720,535 755,500 M685,545 Q720,570 760,535 M690,580 Q720,600 750,570" fill="none" stroke-width="6"/>
<path d="M160,505 Q150,470 178,455 Q175,410 215,408 Q240,385 285,392 L440,378 Q490,385 497,440 L497,560 Q495,600 455,618 L305,692 Q270,700 245,680 Q215,690 200,660 Q165,650 170,610 Q150,590 165,560 Q150,530 160,505 Z" fill="#58595b" stroke-width="13"/>
<path d="M215,408 Q300,420 318,480 Q345,560 322,620 Q310,670 245,680" fill="none" stroke-width="8"/>
<path d="M300,425 L470,400 M322,490 L495,455 M335,560 L497,515 M325,625 L480,575" fill="none" stroke-width="8"/>
<ellipse cx="238" cy="545" rx="34" ry="40" fill="#fff" stroke-width="9"/>
<ellipse cx="232" cy="545" rx="13" ry="16" fill="#000" stroke="none"/>
<circle cx="308" cy="662" r="8" fill="#000" stroke="none"/>
</g>
<g transform="translate(180,840.0) scale(0.16636)" stroke="#000" fill="#fff" stroke-linejoin="round" stroke-linecap="round">
<path d="M283,520 L283,400 Q290,322 365,318 L520,296 L545,398 Z" stroke-width="13"/>
<path d="M365,350 L520,308 L700,352 L700,600 L545,645 L440,628 L365,600 Z" stroke-width="13"/>
<path d="M365,350 L545,398 L700,352 M545,398 L545,645 M510,390 L510,640" fill="none" stroke-width="9"/>
<path d="M575,440 Q650,405 720,424 L720,636 Q650,662 575,628 Z" stroke-width="12"/>
<ellipse cx="718" cy="530" rx="80" ry="108" stroke-width="13"/>
<ellipse cx="722" cy="532" rx="50" ry="72" stroke-width="11"/>
<path d="M690,480 Q720,500 745,470 M685,510 Q720,535 755,500 M685,545 Q720,570 760,535 M690,580 Q720,600 750,570" fill="none" stroke-width="6"/>
<path d="M160,505 Q150,470 178,455 Q175,410 215,408 Q240,385 285,392 L440,378 Q490,385 497,440 L497,560 Q495,600 455,618 L305,692 Q270,700 245,680 Q215,690 200,660 Q165,650 170,610 Q150,590 165,560 Q150,530 160,505 Z" fill="#58595b" stroke-width="13"/>
<path d="M215,408 Q300,420 318,480 Q345,560 322,620 Q310,670 245,680" fill="none" stroke-width="8"/>
<path d="M300,425 L470,400 M322,490 L495,455 M335,560 L497,515 M325,625 L480,575" fill="none" stroke-width="8"/>
<ellipse cx="238" cy="545" rx="34" ry="40" fill="#fff" stroke-width="9"/>
<ellipse cx="232" cy="545" rx="13" ry="16" fill="#000" stroke="none"/>
<circle cx="308" cy="662" r="8" fill="#000" stroke="none"/>
</g>
<g transform="translate(180,901.6) scale(0.16636)" stroke="#000" fill="#fff" stroke-linejoin="round" stroke-linecap="round">
<path d="M283,520 L283,400 Q290,322 365,318 L520,296 L545,398 Z" stroke-width="13"/>
<path d="M365,350 L520,308 L700,352 L700,600 L545,645 L440,628 L365,600 Z" stroke-width="13"/>
<path d="M365,350 L545,398 L700,352 M545,398 L545,645 M510,390 L510,640" fill="none" stroke-width="9"/>
<path d="M575,440 Q650,405 720,424 L720,636 Q650,662 575,628 Z" stroke-width="12"/>
<ellipse cx="718" cy="530" rx="80" ry="108" stroke-width="13"/>
<ellipse cx="722" cy="532" rx="50" ry="72" stroke-width="11"/>
<path d="M690,480 Q720,500 745,470 M685,510 Q720,535 755,500 M685,545 Q720,570 760,535 M690,580 Q720,600 750,570" fill="none" stroke-width="6"/>
<path d="M160,505 Q150,470 178,455 Q175,410 215,408 Q240,385 285,392 L440,378 Q490,385 497,440 L497,560 Q495,600 455,618 L305,692 Q270,700 245,680 Q215,690 200,660 Q165,650 170,610 Q150,590 165,560 Q150,530 160,505 Z" fill="#58595b" stroke-width="13"/>
<path d="M215,408 Q300,420 318,480 Q345,560 322,620 Q310,670 245,680" fill="none" stroke-width="8"/>
<path d="M300,425 L470,400 M322,490 L495,455 M335,560 L497,515 M325,625 L480,575" fill="none" stroke-width="8"/>
<ellipse cx="238" cy="545" rx="34" ry="40" fill="#fff" stroke-width="9"/>
<ellipse cx="232" cy="545" rx="13" ry="16" fill="#000" stroke="none"/>
<circle cx="308" cy="662" r="8" fill="#000" stroke="none"/>
</g>
</g>

<!-- fittings -->
<g id="fittings" stroke="#000" fill="#fff" stroke-linejoin="round" stroke-linecap="butt">
<g transform="translate(1249.6,859.0) rotate(90.0)"><rect x="27.0" y="-9.8" width="12.0" height="19.6" fill="#fff" stroke-width="2.5"/><path d="M29.7,-9.8 L29.7,9.8" fill="none" stroke-width="1.5"/><path d="M32.3,-9.8 L32.3,9.8" fill="none" stroke-width="1.5"/><path d="M35.0,-9.8 L35.0,9.8" fill="none" stroke-width="1.5"/><path d="M37.7,-9.8 L37.7,9.8" fill="none" stroke-width="1.5"/><rect x="0.0" y="-9.8" width="14.0" height="19.6" fill="#fff" stroke-width="2.5"/><path d="M3.1,-9.8 L3.1,9.8" fill="none" stroke-width="1.5"/><path d="M6.2,-9.8 L6.2,9.8" fill="none" stroke-width="1.5"/><path d="M9.3,-9.8 L9.3,9.8" fill="none" stroke-width="1.5"/><path d="M12.4,-9.8 L12.4,9.8" fill="none" stroke-width="1.5"/><path d="M15.5,-13.8 L25.0,-13.8 L27.5,-11.3 L27.5,11.3 L25.0,13.8 L15.5,13.8 L13.0,11.3 L13.0,-11.3 Z" fill="#fff" stroke-width="2.5"/><path d="M13.0,-6.9 L27.5,-6.9 M13.0,6.9 L27.5,6.9" stroke-width="1.1"/><path d="M15.5,-6.9 Q12.5,0 15.5,6.9 M25.0,-6.9 Q28.0,0 25.0,6.9" stroke-width="1.1"/></g>
<g transform="translate(1249.6,910.3) rotate(90.0)"><rect x="17.0" y="-11.3" width="37.0" height="22.6" fill="#fff" stroke-width="2.5"/><path d="M19.0,-7.4 L51.5,-7.4 M19.0,-5.0 L51.5,-5.0" stroke-width="1"/><path d="M19.0,5.0 L51.5,5.0 M19.0,7.4 L51.5,7.4" stroke-width="1"/><path d="M2.5,-14.0 L14.5,-14.0 L17.0,-11.5 L17.0,11.5 L14.5,14.0 L2.5,14.0 L0.0,11.5 L0.0,-11.5 Z" fill="#fff" stroke-width="2.5"/><path d="M0.0,-7.0 L17.0,-7.0 M0.0,7.0 L17.0,7.0" stroke-width="1.1"/><path d="M2.5,-7.0 Q-0.5,0 2.5,7.0 M14.5,-7.0 Q17.5,0 14.5,7.0" stroke-width="1.1"/></g>
<g transform="translate(1513.2,818.5) rotate(90.0)"><rect x="27.0" y="-9.8" width="12.0" height="19.6" fill="#fff" stroke-width="2.5"/><path d="M29.7,-9.8 L29.7,9.8" fill="none" stroke-width="1.5"/><path d="M32.3,-9.8 L32.3,9.8" fill="none" stroke-width="1.5"/><path d="M35.0,-9.8 L35.0,9.8" fill="none" stroke-width="1.5"/><path d="M37.7,-9.8 L37.7,9.8" fill="none" stroke-width="1.5"/><rect x="0.0" y="-9.8" width="14.0" height="19.6" fill="#fff" stroke-width="2.5"/><path d="M3.1,-9.8 L3.1,9.8" fill="none" stroke-width="1.5"/><path d="M6.2,-9.8 L6.2,9.8" fill="none" stroke-width="1.5"/><path d="M9.3,-9.8 L9.3,9.8" fill="none" stroke-width="1.5"/><path d="M12.4,-9.8 L12.4,9.8" fill="none" stroke-width="1.5"/><path d="M15.5,-13.8 L25.0,-13.8 L27.5,-11.3 L27.5,11.3 L25.0,13.8 L15.5,13.8 L13.0,11.3 L13.0,-11.3 Z" fill="#fff" stroke-width="2.5"/><path d="M13.0,-6.9 L27.5,-6.9 M13.0,6.9 L27.5,6.9" stroke-width="1.1"/><path d="M15.5,-6.9 Q12.5,0 15.5,6.9 M25.0,-6.9 Q28.0,0 25.0,6.9" stroke-width="1.1"/></g>
<g transform="translate(1513.2,868.8) rotate(90.0)"><rect x="17.0" y="-11.3" width="37.0" height="22.6" fill="#fff" stroke-width="2.5"/><path d="M19.0,-7.4 L51.5,-7.4 M19.0,-5.0 L51.5,-5.0" stroke-width="1"/><path d="M19.0,5.0 L51.5,5.0 M19.0,7.4 L51.5,7.4" stroke-width="1"/><path d="M2.5,-14.0 L14.5,-14.0 L17.0,-11.5 L17.0,11.5 L14.5,14.0 L2.5,14.0 L0.0,11.5 L0.0,-11.5 Z" fill="#fff" stroke-width="2.5"/><path d="M0.0,-7.0 L17.0,-7.0 M0.0,7.0 L17.0,7.0" stroke-width="1.1"/><path d="M2.5,-7.0 Q-0.5,0 2.5,7.0 M14.5,-7.0 Q17.5,0 14.5,7.0" stroke-width="1.1"/></g>
<g transform="translate(1354.2,571.7) rotate(90.0)"><rect x="17.0" y="-11.3" width="37.0" height="22.6" fill="#fff" stroke-width="2.5"/><path d="M19.0,-7.4 L51.5,-7.4 M19.0,-5.0 L51.5,-5.0" stroke-width="1"/><path d="M19.0,5.0 L51.5,5.0 M19.0,7.4 L51.5,7.4" stroke-width="1"/><path d="M2.5,-14.0 L14.5,-14.0 L17.0,-11.5 L17.0,11.5 L14.5,14.0 L2.5,14.0 L0.0,11.5 L0.0,-11.5 Z" fill="#fff" stroke-width="2.5"/><path d="M0.0,-7.0 L17.0,-7.0 M0.0,7.0 L17.0,7.0" stroke-width="1.1"/><path d="M2.5,-7.0 Q-0.5,0 2.5,7.0 M14.5,-7.0 Q17.5,0 14.5,7.0" stroke-width="1.1"/></g>
<g transform="translate(1423.8,574.6) rotate(90.0)"><rect x="17.0" y="-11.3" width="37.0" height="22.6" fill="#fff" stroke-width="2.5"/><path d="M19.0,-7.4 L51.5,-7.4 M19.0,-5.0 L51.5,-5.0" stroke-width="1"/><path d="M19.0,5.0 L51.5,5.0 M19.0,7.4 L51.5,7.4" stroke-width="1"/><path d="M2.5,-14.0 L14.5,-14.0 L17.0,-11.5 L17.0,11.5 L14.5,14.0 L2.5,14.0 L0.0,11.5 L0.0,-11.5 Z" fill="#fff" stroke-width="2.5"/><path d="M0.0,-7.0 L17.0,-7.0 M0.0,7.0 L17.0,7.0" stroke-width="1.1"/><path d="M2.5,-7.0 Q-0.5,0 2.5,7.0 M14.5,-7.0 Q17.5,0 14.5,7.0" stroke-width="1.1"/></g>
<g transform="translate(1002.4,1411.0) rotate(-90.0)"><rect x="17.0" y="-11.3" width="37.0" height="22.6" fill="#fff" stroke-width="2.5"/><path d="M19.0,-7.4 L51.5,-7.4 M19.0,-5.0 L51.5,-5.0" stroke-width="1"/><path d="M19.0,5.0 L51.5,5.0 M19.0,7.4 L51.5,7.4" stroke-width="1"/><path d="M2.5,-14.0 L14.5,-14.0 L17.0,-11.5 L17.0,11.5 L14.5,14.0 L2.5,14.0 L0.0,11.5 L0.0,-11.5 Z" fill="#fff" stroke-width="2.5"/><path d="M0.0,-7.0 L17.0,-7.0 M0.0,7.0 L17.0,7.0" stroke-width="1.1"/><path d="M2.5,-7.0 Q-0.5,0 2.5,7.0 M14.5,-7.0 Q17.5,0 14.5,7.0" stroke-width="1.1"/></g>
<g transform="translate(1002.4,1427.3) rotate(90.0)"><rect x="45.0" y="-9.0" width="12.5" height="18.0" fill="#fff" stroke-width="2.5"/><path d="M47.8,-9.0 L47.8,9.0" fill="none" stroke-width="1.5"/><path d="M50.6,-9.0 L50.6,9.0" fill="none" stroke-width="1.5"/><path d="M53.3,-9.0 L53.3,9.0" fill="none" stroke-width="1.5"/><path d="M56.1,-9.0 L56.1,9.0" fill="none" stroke-width="1.5"/><rect x="0.0" y="-9.0" width="15.4" height="18.0" fill="#fff" stroke-width="2.5"/><path d="M2.8,-9.0 L2.8,9.0" fill="none" stroke-width="1.5"/><path d="M5.6,-9.0 L5.6,9.0" fill="none" stroke-width="1.5"/><path d="M8.4,-9.0 L8.4,9.0" fill="none" stroke-width="1.5"/><path d="M11.2,-9.0 L11.2,9.0" fill="none" stroke-width="1.5"/><path d="M14.0,-9.0 L14.0,9.0" fill="none" stroke-width="1.5"/><ellipse cx="26" cy="0" rx="4" ry="18" fill="#a7a9ac" stroke="none"/><rect x="26.0" y="-8.7" width="6.0" height="17.4" fill="#fff" stroke-width="2.5"/><path d="M15.5,-13.9 L24.0,-13.9 L26.5,-11.4 L26.5,11.4 L24.0,13.9 L15.5,13.9 L13.0,11.4 L13.0,-11.4 Z" fill="#fff" stroke-width="2.5"/><path d="M13.0,-7.0 L26.5,-7.0 M13.0,7.0 L26.5,7.0" stroke-width="1.1"/><path d="M15.5,-7.0 Q12.5,0 15.5,7.0 M24.0,-7.0 Q27.0,0 24.0,7.0" stroke-width="1.1"/><path d="M34.0,-13.9 L43.5,-13.9 L46.0,-11.4 L46.0,11.4 L43.5,13.9 L34.0,13.9 L31.5,11.4 L31.5,-11.4 Z" fill="#fff" stroke-width="2.5"/><path d="M31.5,-7.0 L46.0,-7.0 M31.5,7.0 L46.0,7.0" stroke-width="1.1"/><path d="M34.0,-7.0 Q31.0,0 34.0,7.0 M43.5,-7.0 Q46.5,0 43.5,7.0" stroke-width="1.1"/></g>
<g transform="translate(1088.8,1382.8) rotate(90.0)"><rect x="27.0" y="-9.8" width="12.0" height="19.6" fill="#fff" stroke-width="2.5"/><path d="M29.7,-9.8 L29.7,9.8" fill="none" stroke-width="1.5"/><path d="M32.3,-9.8 L32.3,9.8" fill="none" stroke-width="1.5"/><path d="M35.0,-9.8 L35.0,9.8" fill="none" stroke-width="1.5"/><path d="M37.7,-9.8 L37.7,9.8" fill="none" stroke-width="1.5"/><rect x="0.0" y="-9.8" width="14.0" height="19.6" fill="#fff" stroke-width="2.5"/><path d="M3.1,-9.8 L3.1,9.8" fill="none" stroke-width="1.5"/><path d="M6.2,-9.8 L6.2,9.8" fill="none" stroke-width="1.5"/><path d="M9.3,-9.8 L9.3,9.8" fill="none" stroke-width="1.5"/><path d="M12.4,-9.8 L12.4,9.8" fill="none" stroke-width="1.5"/><path d="M15.5,-13.8 L25.0,-13.8 L27.5,-11.3 L27.5,11.3 L25.0,13.8 L15.5,13.8 L13.0,11.3 L13.0,-11.3 Z" fill="#fff" stroke-width="2.5"/><path d="M13.0,-6.9 L27.5,-6.9 M13.0,6.9 L27.5,6.9" stroke-width="1.1"/><path d="M15.5,-6.9 Q12.5,0 15.5,6.9 M25.0,-6.9 Q28.0,0 25.0,6.9" stroke-width="1.1"/></g>
<g transform="translate(845.0,478.0) rotate(-15.5)"><path d="M-26.0,0 L0.0,0" stroke="#000" stroke-width="4.8"/><path d="M-26.0,0 L0.0,0" stroke="#fff" stroke-width="2.6"/><path d="M29.0,-8.2 L37.0,-8.2 A4.9,8.2 0 0 1 37.0,8.2 L29.0,8.2 A4.9,8.2 0 0 1 29.0,-8.2 Z" fill="#fff" stroke-width="2.5"/><ellipse cx="29.0" cy="0" rx="4.9" ry="8.2" fill="#fff" stroke-width="2.5"/><path d="M31.3,-8.2 A4.9,8.2 0 0 1 31.3,8.2" fill="none" stroke-width="1.5"/><path d="M33.6,-8.2 A4.9,8.2 0 0 1 33.6,8.2" fill="none" stroke-width="1.5"/><path d="M35.9,-8.2 A4.9,8.2 0 0 1 35.9,8.2" fill="none" stroke-width="1.5"/><path d="M0.0,-8.2 L14.0,-8.2 A4.9,8.2 0 0 1 14.0,8.2 L0.0,8.2 A4.9,8.2 0 0 1 0.0,-8.2 Z" fill="#fff" stroke-width="2.5"/><ellipse cx="0.0" cy="0" rx="4.9" ry="8.2" fill="#fff" stroke-width="2.5"/><path d="M2.2,-8.2 A4.9,8.2 0 0 1 2.2,8.2" fill="none" stroke-width="1.5"/><path d="M4.3,-8.2 A4.9,8.2 0 0 1 4.3,8.2" fill="none" stroke-width="1.5"/><path d="M6.5,-8.2 A4.9,8.2 0 0 1 6.5,8.2" fill="none" stroke-width="1.5"/><path d="M8.6,-8.2 A4.9,8.2 0 0 1 8.6,8.2" fill="none" stroke-width="1.5"/><path d="M10.8,-8.2 A4.9,8.2 0 0 1 10.8,8.2" fill="none" stroke-width="1.5"/><path d="M12.9,-8.2 A4.9,8.2 0 0 1 12.9,8.2" fill="none" stroke-width="1.5"/><path d="M15.0,-11.8 L29.0,-11.8 A5.0,11.8 0 0 1 29.0,11.8 L15.0,11.8 A5.0,11.8 0 0 1 15.0,-11.8 Z" fill="#fff" stroke-width="2.5"/><ellipse cx="15.0" cy="0" rx="5.0" ry="11.8" fill="#fff" stroke-width="2.5"/><path d="M15.0,-5.3 L33.2,-5.3 M15.0,6.5 L33.0,6.5" stroke-width="1.1"/><ellipse cx="0" cy="0" rx="3.1" ry="5.1" fill="#000" stroke="none"/></g>
<g transform="translate(897.0,462.5) rotate(-15.5)"><path d="M-14.0,0 L0.0,0" stroke="#000" stroke-width="4.8"/><path d="M-14.0,0 L0.0,0" stroke="#fff" stroke-width="2.6"/><path d="M17.0,-10.0 L46.0,-10.0 A3.6,10.0 0 0 1 46.0,10.0 L17.0,10.0 A3.6,10.0 0 0 1 17.0,-10.0 Z" fill="#fff" stroke-width="2.5"/><ellipse cx="17.0" cy="0" rx="3.6" ry="10.0" fill="#fff" stroke-width="2.5"/><path d="M19.0,-6.7 L43.5,-6.7 M19.0,-4.3 L43.5,-4.3" stroke-width="1"/><path d="M19.0,4.3 L43.5,4.3 M19.0,6.7 L43.5,6.7" stroke-width="1"/><path d="M0.0,-11.6 L16.0,-11.6 A7.0,11.6 0 0 1 16.0,11.6 L0.0,11.6 A7.0,11.6 0 0 1 0.0,-11.6 Z" fill="#fff" stroke-width="2.5"/><ellipse cx="0.0" cy="0" rx="7.0" ry="11.6" fill="#fff" stroke-width="2.5"/><path d="M0.0,-5.2 L21.9,-5.2 M0.0,6.4 L21.6,6.4" stroke-width="1.1"/><ellipse cx="0.0" cy="0" rx="5.2" ry="8.6" fill="#000" stroke="none"/><ellipse cx="0.6" cy="0.5" rx="2.1" ry="3.5" fill="#fff" stroke="none"/></g>
<g transform="translate(845.0,713.5) rotate(-15.5)"><path d="M-26.0,0 L0.0,0" stroke="#000" stroke-width="4.8"/><path d="M-26.0,0 L0.0,0" stroke="#fff" stroke-width="2.6"/><path d="M29.0,-8.2 L37.0,-8.2 A4.9,8.2 0 0 1 37.0,8.2 L29.0,8.2 A4.9,8.2 0 0 1 29.0,-8.2 Z" fill="#fff" stroke-width="2.5"/><ellipse cx="29.0" cy="0" rx="4.9" ry="8.2" fill="#fff" stroke-width="2.5"/><path d="M31.3,-8.2 A4.9,8.2 0 0 1 31.3,8.2" fill="none" stroke-width="1.5"/><path d="M33.6,-8.2 A4.9,8.2 0 0 1 33.6,8.2" fill="none" stroke-width="1.5"/><path d="M35.9,-8.2 A4.9,8.2 0 0 1 35.9,8.2" fill="none" stroke-width="1.5"/><path d="M0.0,-8.2 L14.0,-8.2 A4.9,8.2 0 0 1 14.0,8.2 L0.0,8.2 A4.9,8.2 0 0 1 0.0,-8.2 Z" fill="#fff" stroke-width="2.5"/><ellipse cx="0.0" cy="0" rx="4.9" ry="8.2" fill="#fff" stroke-width="2.5"/><path d="M2.2,-8.2 A4.9,8.2 0 0 1 2.2,8.2" fill="none" stroke-width="1.5"/><path d="M4.3,-8.2 A4.9,8.2 0 0 1 4.3,8.2" fill="none" stroke-width="1.5"/><path d="M6.5,-8.2 A4.9,8.2 0 0 1 6.5,8.2" fill="none" stroke-width="1.5"/><path d="M8.6,-8.2 A4.9,8.2 0 0 1 8.6,8.2" fill="none" stroke-width="1.5"/><path d="M10.8,-8.2 A4.9,8.2 0 0 1 10.8,8.2" fill="none" stroke-width="1.5"/><path d="M12.9,-8.2 A4.9,8.2 0 0 1 12.9,8.2" fill="none" stroke-width="1.5"/><path d="M15.0,-11.8 L29.0,-11.8 A5.0,11.8 0 0 1 29.0,11.8 L15.0,11.8 A5.0,11.8 0 0 1 15.0,-11.8 Z" fill="#fff" stroke-width="2.5"/><ellipse cx="15.0" cy="0" rx="5.0" ry="11.8" fill="#fff" stroke-width="2.5"/><path d="M15.0,-5.3 L33.2,-5.3 M15.0,6.5 L33.0,6.5" stroke-width="1.1"/><ellipse cx="0" cy="0" rx="3.1" ry="5.1" fill="#000" stroke="none"/></g>
<g transform="translate(897.0,698.0) rotate(-15.5)"><path d="M-14.0,0 L0.0,0" stroke="#000" stroke-width="4.8"/><path d="M-14.0,0 L0.0,0" stroke="#fff" stroke-width="2.6"/><path d="M17.0,-10.0 L46.0,-10.0 A3.6,10.0 0 0 1 46.0,10.0 L17.0,10.0 A3.6,10.0 0 0 1 17.0,-10.0 Z" fill="#fff" stroke-width="2.5"/><ellipse cx="17.0" cy="0" rx="3.6" ry="10.0" fill="#fff" stroke-width="2.5"/><path d="M19.0,-6.7 L43.5,-6.7 M19.0,-4.3 L43.5,-4.3" stroke-width="1"/><path d="M19.0,4.3 L43.5,4.3 M19.0,6.7 L43.5,6.7" stroke-width="1"/><path d="M0.0,-11.6 L16.0,-11.6 A7.0,11.6 0 0 1 16.0,11.6 L0.0,11.6 A7.0,11.6 0 0 1 0.0,-11.6 Z" fill="#fff" stroke-width="2.5"/><ellipse cx="0.0" cy="0" rx="7.0" ry="11.6" fill="#fff" stroke-width="2.5"/><path d="M0.0,-5.2 L21.9,-5.2 M0.0,6.4 L21.6,6.4" stroke-width="1.1"/><ellipse cx="0.0" cy="0" rx="5.2" ry="8.6" fill="#000" stroke="none"/><ellipse cx="0.6" cy="0.5" rx="2.1" ry="3.5" fill="#fff" stroke="none"/></g>
<g transform="translate(517.0,968.5) rotate(15.0)"><path d="M37.0,0 L47.0,0" stroke="#000" stroke-width="4.8"/><path d="M37.0,0 L47.0,0" stroke="#fff" stroke-width="2.6"/><g transform="translate(37,0) scale(-1,1)"><path d="M29.0,-8.2 L37.0,-8.2 A4.9,8.2 0 0 1 37.0,8.2 L29.0,8.2 A4.9,8.2 0 0 1 29.0,-8.2 Z" fill="#fff" stroke-width="2.5"/><ellipse cx="29.0" cy="0" rx="4.9" ry="8.2" fill="#fff" stroke-width="2.5"/><path d="M31.3,-8.2 A4.9,8.2 0 0 1 31.3,8.2" fill="none" stroke-width="1.5"/><path d="M33.6,-8.2 A4.9,8.2 0 0 1 33.6,8.2" fill="none" stroke-width="1.5"/><path d="M35.9,-8.2 A4.9,8.2 0 0 1 35.9,8.2" fill="none" stroke-width="1.5"/><path d="M0.0,-8.2 L14.0,-8.2 A4.9,8.2 0 0 1 14.0,8.2 L0.0,8.2 A4.9,8.2 0 0 1 0.0,-8.2 Z" fill="#fff" stroke-width="2.5"/><ellipse cx="0.0" cy="0" rx="4.9" ry="8.2" fill="#fff" stroke-width="2.5"/><path d="M2.2,-8.2 A4.9,8.2 0 0 1 2.2,8.2" fill="none" stroke-width="1.5"/><path d="M4.3,-8.2 A4.9,8.2 0 0 1 4.3,8.2" fill="none" stroke-width="1.5"/><path d="M6.5,-8.2 A4.9,8.2 0 0 1 6.5,8.2" fill="none" stroke-width="1.5"/><path d="M8.6,-8.2 A4.9,8.2 0 0 1 8.6,8.2" fill="none" stroke-width="1.5"/><path d="M10.8,-8.2 A4.9,8.2 0 0 1 10.8,8.2" fill="none" stroke-width="1.5"/><path d="M12.9,-8.2 A4.9,8.2 0 0 1 12.9,8.2" fill="none" stroke-width="1.5"/><path d="M15.0,-11.8 L29.0,-11.8 A5.0,11.8 0 0 1 29.0,11.8 L15.0,11.8 A5.0,11.8 0 0 1 15.0,-11.8 Z" fill="#fff" stroke-width="2.5"/><ellipse cx="15.0" cy="0" rx="5.0" ry="11.8" fill="#fff" stroke-width="2.5"/><path d="M15.0,-5.3 L33.2,-5.3 M15.0,6.5 L33.0,6.5" stroke-width="1.1"/><ellipse cx="0" cy="0" rx="3.1" ry="5.1" fill="#000" stroke="none"/></g></g>
<g transform="translate(576.0,985.5) rotate(15.0)"><path d="M-12.0,0 L0.0,0" stroke="#000" stroke-width="4.8"/><path d="M-12.0,0 L0.0,0" stroke="#fff" stroke-width="2.6"/><path d="M17.0,-10.0 L46.0,-10.0 A3.0,10.0 0 0 1 46.0,10.0 L17.0,10.0 A3.0,10.0 0 0 1 17.0,-10.0 Z" fill="#fff" stroke-width="2.5"/><ellipse cx="17.0" cy="0" rx="3.0" ry="10.0" fill="#fff" stroke-width="2.5"/><path d="M19.0,-6.7 L43.5,-6.7 M19.0,-4.3 L43.5,-4.3" stroke-width="1"/><path d="M19.0,4.3 L43.5,4.3 M19.0,6.7 L43.5,6.7" stroke-width="1"/><path d="M0.0,-11.6 L16.0,-11.6 A5.8,11.6 0 0 1 16.0,11.6 L0.0,11.6 A5.8,11.6 0 0 1 0.0,-11.6 Z" fill="#fff" stroke-width="2.5"/><ellipse cx="0.0" cy="0" rx="5.8" ry="11.6" fill="#fff" stroke-width="2.5"/><path d="M0.0,-5.2 L20.9,-5.2 M0.0,6.4 L20.6,6.4" stroke-width="1.1"/><ellipse cx="0.0" cy="0" rx="4.3" ry="8.6" fill="#000" stroke="none"/><ellipse cx="0.6" cy="0.5" rx="1.7" ry="3.5" fill="#fff" stroke="none"/></g>
<g transform="translate(517.0,1006.3) rotate(15.0)"><path d="M37.0,0 L47.0,0" stroke="#000" stroke-width="4.8"/><path d="M37.0,0 L47.0,0" stroke="#fff" stroke-width="2.6"/><g transform="translate(37,0) scale(-1,1)"><path d="M29.0,-8.2 L37.0,-8.2 A4.9,8.2 0 0 1 37.0,8.2 L29.0,8.2 A4.9,8.2 0 0 1 29.0,-8.2 Z" fill="#fff" stroke-width="2.5"/><ellipse cx="29.0" cy="0" rx="4.9" ry="8.2" fill="#fff" stroke-width="2.5"/><path d="M31.3,-8.2 A4.9,8.2 0 0 1 31.3,8.2" fill="none" stroke-width="1.5"/><path d="M33.6,-8.2 A4.9,8.2 0 0 1 33.6,8.2" fill="none" stroke-width="1.5"/><path d="M35.9,-8.2 A4.9,8.2 0 0 1 35.9,8.2" fill="none" stroke-width="1.5"/><path d="M0.0,-8.2 L14.0,-8.2 A4.9,8.2 0 0 1 14.0,8.2 L0.0,8.2 A4.9,8.2 0 0 1 0.0,-8.2 Z" fill="#fff" stroke-width="2.5"/><ellipse cx="0.0" cy="0" rx="4.9" ry="8.2" fill="#fff" stroke-width="2.5"/><path d="M2.2,-8.2 A4.9,8.2 0 0 1 2.2,8.2" fill="none" stroke-width="1.5"/><path d="M4.3,-8.2 A4.9,8.2 0 0 1 4.3,8.2" fill="none" stroke-width="1.5"/><path d="M6.5,-8.2 A4.9,8.2 0 0 1 6.5,8.2" fill="none" stroke-width="1.5"/><path d="M8.6,-8.2 A4.9,8.2 0 0 1 8.6,8.2" fill="none" stroke-width="1.5"/><path d="M10.8,-8.2 A4.9,8.2 0 0 1 10.8,8.2" fill="none" stroke-width="1.5"/><path d="M12.9,-8.2 A4.9,8.2 0 0 1 12.9,8.2" fill="none" stroke-width="1.5"/><path d="M15.0,-11.8 L29.0,-11.8 A5.0,11.8 0 0 1 29.0,11.8 L15.0,11.8 A5.0,11.8 0 0 1 15.0,-11.8 Z" fill="#fff" stroke-width="2.5"/><ellipse cx="15.0" cy="0" rx="5.0" ry="11.8" fill="#fff" stroke-width="2.5"/><path d="M15.0,-5.3 L33.2,-5.3 M15.0,6.5 L33.0,6.5" stroke-width="1.1"/><ellipse cx="0" cy="0" rx="3.1" ry="5.1" fill="#000" stroke="none"/></g></g>
<g transform="translate(576.0,1023.3) rotate(15.0)"><path d="M-12.0,0 L0.0,0" stroke="#000" stroke-width="4.8"/><path d="M-12.0,0 L0.0,0" stroke="#fff" stroke-width="2.6"/><path d="M17.0,-10.0 L46.0,-10.0 A3.0,10.0 0 0 1 46.0,10.0 L17.0,10.0 A3.0,10.0 0 0 1 17.0,-10.0 Z" fill="#fff" stroke-width="2.5"/><ellipse cx="17.0" cy="0" rx="3.0" ry="10.0" fill="#fff" stroke-width="2.5"/><path d="M19.0,-6.7 L43.5,-6.7 M19.0,-4.3 L43.5,-4.3" stroke-width="1"/><path d="M19.0,4.3 L43.5,4.3 M19.0,6.7 L43.5,6.7" stroke-width="1"/><path d="M0.0,-11.6 L16.0,-11.6 A5.8,11.6 0 0 1 16.0,11.6 L0.0,11.6 A5.8,11.6 0 0 1 0.0,-11.6 Z" fill="#fff" stroke-width="2.5"/><ellipse cx="0.0" cy="0" rx="5.8" ry="11.6" fill="#fff" stroke-width="2.5"/><path d="M0.0,-5.2 L20.9,-5.2 M0.0,6.4 L20.6,6.4" stroke-width="1.1"/><ellipse cx="0.0" cy="0" rx="4.3" ry="8.6" fill="#000" stroke="none"/><ellipse cx="0.6" cy="0.5" rx="1.7" ry="3.5" fill="#fff" stroke="none"/></g>
</g>

<!-- fittings 2 -->
<g id="fittings2" stroke="#000" fill="#fff" stroke-linejoin="round" stroke-linecap="butt">
<g transform="translate(400,840) scale(0.19015)" stroke-width="13" stroke-linecap="round">
<path d="M285,470 L450,425 L530,447 L530,1215 L375,1262 L285,1235 Z"/>
<path d="M285,470 L375,500 L530,447 M375,500 L375,1262" fill="none" stroke-width="11"/>
<ellipse cx="460" cy="510" rx="17" ry="24" stroke-width="10"/>
<ellipse cx="455" cy="635" rx="33" ry="48" stroke-width="10"/>
<ellipse cx="455" cy="835" rx="33" ry="48" stroke-width="10"/>
<ellipse cx="455" cy="1040" rx="33" ry="48" stroke-width="10"/>
<path d="M435,605 Q470,640 445,672 M450,598 Q485,635 462,676 M435,805 Q470,840 445,872 M450,798 Q485,835 462,876 M435,1010 Q470,1045 445,1077 M450,1003 Q485,1040 462,1081" fill="none" stroke-width="5"/>
<ellipse cx="460" cy="1195" rx="16" ry="27" stroke-width="10"/>
</g>
<g transform="translate(384.2,887.0) rotate(14.5)"><path d="M37.0,0 L46.0,0" stroke="#000" stroke-width="4.8"/><path d="M37.0,0 L46.0,0" stroke="#fff" stroke-width="2.6"/><g transform="translate(37,0) scale(-1,1)"><path d="M29.0,-8.2 L37.0,-8.2 A4.9,8.2 0 0 1 37.0,8.2 L29.0,8.2 A4.9,8.2 0 0 1 29.0,-8.2 Z" fill="#fff" stroke-width="2.5"/><ellipse cx="29.0" cy="0" rx="4.9" ry="8.2" fill="#fff" stroke-width="2.5"/><path d="M31.3,-8.2 A4.9,8.2 0 0 1 31.3,8.2" fill="none" stroke-width="1.5"/><path d="M33.6,-8.2 A4.9,8.2 0 0 1 33.6,8.2" fill="none" stroke-width="1.5"/><path d="M35.9,-8.2 A4.9,8.2 0 0 1 35.9,8.2" fill="none" stroke-width="1.5"/><path d="M0.0,-8.2 L14.0,-8.2 A4.9,8.2 0 0 1 14.0,8.2 L0.0,8.2 A4.9,8.2 0 0 1 0.0,-8.2 Z" fill="#fff" stroke-width="2.5"/><ellipse cx="0.0" cy="0" rx="4.9" ry="8.2" fill="#fff" stroke-width="2.5"/><path d="M2.2,-8.2 A4.9,8.2 0 0 1 2.2,8.2" fill="none" stroke-width="1.5"/><path d="M4.3,-8.2 A4.9,8.2 0 0 1 4.3,8.2" fill="none" stroke-width="1.5"/><path d="M6.5,-8.2 A4.9,8.2 0 0 1 6.5,8.2" fill="none" stroke-width="1.5"/><path d="M8.6,-8.2 A4.9,8.2 0 0 1 8.6,8.2" fill="none" stroke-width="1.5"/><path d="M10.8,-8.2 A4.9,8.2 0 0 1 10.8,8.2" fill="none" stroke-width="1.5"/><path d="M12.9,-8.2 A4.9,8.2 0 0 1 12.9,8.2" fill="none" stroke-width="1.5"/><path d="M15.0,-11.8 L29.0,-11.8 A5.0,11.8 0 0 1 29.0,11.8 L15.0,11.8 A5.0,11.8 0 0 1 15.0,-11.8 Z" fill="#fff" stroke-width="2.5"/><ellipse cx="15.0" cy="0" rx="5.0" ry="11.8" fill="#fff" stroke-width="2.5"/><path d="M15.0,-5.3 L33.2,-5.3 M15.0,6.5 L33.0,6.5" stroke-width="1.1"/><ellipse cx="0" cy="0" rx="3.1" ry="5.1" fill="#000" stroke="none"/></g></g>
<g transform="translate(384.2,948.5) rotate(14.5)"><path d="M37.0,0 L46.0,0" stroke="#000" stroke-width="4.8"/><path d="M37.0,0 L46.0,0" stroke="#fff" stroke-width="2.6"/><g transform="translate(37,0) scale(-1,1)"><path d="M29.0,-8.2 L37.0,-8.2 A4.9,8.2 0 0 1 37.0,8.2 L29.0,8.2 A4.9,8.2 0 0 1 29.0,-8.2 Z" fill="#fff" stroke-width="2.5"/><ellipse cx="29.0" cy="0" rx="4.9" ry="8.2" fill="#fff" stroke-width="2.5"/><path d="M31.3,-8.2 A4.9,8.2 0 0 1 31.3,8.2" fill="none" stroke-width="1.5"/><path d="M33.6,-8.2 A4.9,8.2 0 0 1 33.6,8.2" fill="none" stroke-width="1.5"/><path d="M35.9,-8.2 A4.9,8.2 0 0 1 35.9,8.2" fill="none" stroke-width="1.5"/><path d="M0.0,-8.2 L14.0,-8.2 A4.9,8.2 0 0 1 14.0,8.2 L0.0,8.2 A4.9,8.2 0 0 1 0.0,-8.2 Z" fill="#fff" stroke-width="2.5"/><ellipse cx="0.0" cy="0" rx="4.9" ry="8.2" fill="#fff" stroke-width="2.5"/><path d="M2.2,-8.2 A4.9,8.2 0 0 1 2.2,8.2" fill="none" stroke-width="1.5"/><path d="M4.3,-8.2 A4.9,8.2 0 0 1 4.3,8.2" fill="none" stroke-width="1.5"/><path d="M6.5,-8.2 A4.9,8.2 0 0 1 6.5,8.2" fill="none" stroke-width="1.5"/><path d="M8.6,-8.2 A4.9,8.2 0 0 1 8.6,8.2" fill="none" stroke-width="1.5"/><path d="M10.8,-8.2 A4.9,8.2 0 0 1 10.8,8.2" fill="none" stroke-width="1.5"/><path d="M12.9,-8.2 A4.9,8.2 0 0 1 12.9,8.2" fill="none" stroke-width="1.5"/><path d="M15.0,-11.8 L29.0,-11.8 A5.0,11.8 0 0 1 29.0,11.8 L15.0,11.8 A5.0,11.8 0 0 1 15.0,-11.8 Z" fill="#fff" stroke-width="2.5"/><ellipse cx="15.0" cy="0" rx="5.0" ry="11.8" fill="#fff" stroke-width="2.5"/><path d="M15.0,-5.3 L33.2,-5.3 M15.0,6.5 L33.0,6.5" stroke-width="1.1"/><ellipse cx="0" cy="0" rx="3.1" ry="5.1" fill="#000" stroke="none"/></g></g>
<g transform="translate(326.0,995.1) rotate(14.5)"><path d="M37.0,0 L46.0,0" stroke="#000" stroke-width="4.8"/><path d="M37.0,0 L46.0,0" stroke="#fff" stroke-width="2.6"/><g transform="translate(37,0) scale(-1,1)"><path d="M29.0,-8.2 L37.0,-8.2 A4.9,8.2 0 0 1 37.0,8.2 L29.0,8.2 A4.9,8.2 0 0 1 29.0,-8.2 Z" fill="#fff" stroke-width="2.5"/><ellipse cx="29.0" cy="0" rx="4.9" ry="8.2" fill="#fff" stroke-width="2.5"/><path d="M31.3,-8.2 A4.9,8.2 0 0 1 31.3,8.2" fill="none" stroke-width="1.5"/><path d="M33.6,-8.2 A4.9,8.2 0 0 1 33.6,8.2" fill="none" stroke-width="1.5"/><path d="M35.9,-8.2 A4.9,8.2 0 0 1 35.9,8.2" fill="none" stroke-width="1.5"/><path d="M0.0,-8.2 L14.0,-8.2 A4.9,8.2 0 0 1 14.0,8.2 L0.0,8.2 A4.9,8.2 0 0 1 0.0,-8.2 Z" fill="#fff" stroke-width="2.5"/><ellipse cx="0.0" cy="0" rx="4.9" ry="8.2" fill="#fff" stroke-width="2.5"/><path d="M2.2,-8.2 A4.9,8.2 0 0 1 2.2,8.2" fill="none" stroke-width="1.5"/><path d="M4.3,-8.2 A4.9,8.2 0 0 1 4.3,8.2" fill="none" stroke-width="1.5"/><path d="M6.5,-8.2 A4.9,8.2 0 0 1 6.5,8.2" fill="none" stroke-width="1.5"/><path d="M8.6,-8.2 A4.9,8.2 0 0 1 8.6,8.2" fill="none" stroke-width="1.5"/><path d="M10.8,-8.2 A4.9,8.2 0 0 1 10.8,8.2" fill="none" stroke-width="1.5"/><path d="M12.9,-8.2 A4.9,8.2 0 0 1 12.9,8.2" fill="none" stroke-width="1.5"/><path d="M15.0,-11.8 L29.0,-11.8 A5.0,11.8 0 0 1 29.0,11.8 L15.0,11.8 A5.0,11.8 0 0 1 15.0,-11.8 Z" fill="#fff" stroke-width="2.5"/><ellipse cx="15.0" cy="0" rx="5.0" ry="11.8" fill="#fff" stroke-width="2.5"/><path d="M15.0,-5.3 L33.2,-5.3 M15.0,6.5 L33.0,6.5" stroke-width="1.1"/><ellipse cx="0" cy="0" rx="3.1" ry="5.1" fill="#000" stroke="none"/></g></g>
<g transform="translate(322.5,933.6) rotate(14.5)"><path d="M0.0,-8.0 L12.0,-8.0 A4.8,8.0 0 0 1 12.0,8.0 L0.0,8.0 A4.8,8.0 0 0 1 0.0,-8.0 Z" fill="#fff" stroke-width="2.5"/><ellipse cx="0.0" cy="0" rx="4.8" ry="8.0" fill="#fff" stroke-width="2.5"/><path d="M2.2,-8.0 A4.8,8.0 0 0 1 2.2,8.0" fill="none" stroke-width="1.5"/><path d="M4.4,-8.0 A4.8,8.0 0 0 1 4.4,8.0" fill="none" stroke-width="1.5"/><path d="M6.5,-8.0 A4.8,8.0 0 0 1 6.5,8.0" fill="none" stroke-width="1.5"/><path d="M8.7,-8.0 A4.8,8.0 0 0 1 8.7,8.0" fill="none" stroke-width="1.5"/><path d="M10.9,-8.0 A4.8,8.0 0 0 1 10.9,8.0" fill="none" stroke-width="1.5"/><g transform="translate(48,0) scale(-1,1)"><path d="M0.0,-11.0 L36.0,-11.0 A6.1,11.0 0 0 1 36.0,11.0 L0.0,11.0 A6.1,11.0 0 0 1 0.0,-11.0 Z" fill="#fff" stroke-width="2.5"/><ellipse cx="0.0" cy="0" rx="6.1" ry="11.0" fill="#fff" stroke-width="2.5"/><path d="M0.0,-5.0 L41.1,-5.0 M0.0,6.1 L40.8,6.1" stroke-width="1.1"/><ellipse cx="0.0" cy="0" rx="4.5" ry="8.1" fill="#000" stroke="none"/><ellipse cx="0.6" cy="0.5" rx="1.8" ry="3.3" fill="#fff" stroke="none"/></g></g>
<g transform="translate(349.0,1031.5) rotate(16.0)"><path d="M10,-3.3 L55,-3.3 L55,3.3 L10,3.3 Z" stroke-width="1.8"/><path d="M42.0,-3.6 L56.0,-3.6 A1.8,3.6 0 0 0 56.0,3.6 L42.0,3.6 A1.8,3.6 0 0 0 42.0,-3.6 Z" fill="#fff" stroke-width="2.5"/><ellipse cx="56.0" cy="0" rx="1.8" ry="3.6" fill="#fff" stroke-width="2.5"/><path d="M43.9,-3.6 A1.8,3.6 0 0 0 43.9,3.6" fill="none" stroke-width="1.5"/><path d="M45.7,-3.6 A1.8,3.6 0 0 0 45.7,3.6" fill="none" stroke-width="1.5"/><path d="M47.6,-3.6 A1.8,3.6 0 0 0 47.6,3.6" fill="none" stroke-width="1.5"/><path d="M49.5,-3.6 A1.8,3.6 0 0 0 49.5,3.6" fill="none" stroke-width="1.5"/><path d="M51.3,-3.6 A1.8,3.6 0 0 0 51.3,3.6" fill="none" stroke-width="1.5"/><path d="M53.2,-3.6 A1.8,3.6 0 0 0 53.2,3.6" fill="none" stroke-width="1.5"/><path d="M55.1,-3.6 A1.8,3.6 0 0 0 55.1,3.6" fill="none" stroke-width="1.5"/><path d="M0.0,-6.8 L11.0,-6.8 A3.7,6.8 0 0 1 11.0,6.8 L0.0,6.8 A3.7,6.8 0 0 1 0.0,-6.8 Z" fill="#fff" stroke-width="2.5"/><ellipse cx="0.0" cy="0" rx="3.7" ry="6.8" fill="#fff" stroke-width="2.5"/></g>
<g transform="translate(432,1054.5) rotate(10)"><ellipse cx="0" cy="0" rx="8.6" ry="11.6" stroke-width="2.2"/><ellipse cx="1.2" cy="0.6" rx="5" ry="7.4" stroke-width="3.2"/></g>
<g transform="translate(436.0,1055.5) rotate(14.5)"><path d="M0.0,0 L17.0,0" stroke="#000" stroke-width="4.8"/><path d="M0.0,0 L17.0,0" stroke="#fff" stroke-width="2.6"/></g>
<g transform="translate(520.0,1076.5) rotate(14.5)"><path d="M-30.0,0 L-2.0,0" stroke="#000" stroke-width="4.8"/><path d="M-30.0,0 L-2.0,0" stroke="#fff" stroke-width="2.6"/><path d="M0.0,-6.6 L9.0,-6.6 A4.0,6.6 0 0 1 9.0,6.6 L0.0,6.6 A4.0,6.6 0 0 1 0.0,-6.6 Z" fill="#000" stroke-width="2.5"/><ellipse cx="0.0" cy="0" rx="4.0" ry="6.6" fill="#000" stroke-width="2.5"/><ellipse cx="-0.5" cy="0" rx="3.6" ry="5.8" fill="#fff" stroke-width="1.5"/></g>
<path d="M146.0,773 L146.0,793 M148.60000000000002,773 L148.60000000000002,793" stroke-width="1.2" fill="none"/><g transform="translate(147.3,791)"><path d="M-9.5,10 L-9.5,27 Q-9.5,41 4,44 L13,46.5 L18,28 L12.5,26 Q9.5,25 9.5,19 L9.5,10 Z" stroke-width="2.6"/><path d="M-4.5,17 L-4.5,26 L1,28 L1,34 L7,36" fill="none" stroke-width="1.6"/><rect x="-10.2" y="1" width="20.4" height="14" stroke-width="2.6"/><path d="M-10.2,13.2 L10.2,13.2" stroke-width="2.6"/><ellipse cx="0" cy="2.2" rx="10.2" ry="3.4" fill="#000" stroke-width="2"/><ellipse cx="0" cy="1.6" rx="4.6" ry="1.5" fill="#fff" stroke="none"/><g transform="translate(13.5,36.5) rotate(15)"><g transform="translate(13.5,0) scale(-1,1)"><path d="M0.0,-8.6 L12.5,-8.6 A5.2,8.6 0 0 1 12.5,8.6 L0.0,8.6 A5.2,8.6 0 0 1 0.0,-8.6 Z" fill="#fff" stroke-width="2.5"/><ellipse cx="0.0" cy="0" rx="5.2" ry="8.6" fill="#fff" stroke-width="2.5"/><path d="M1.9,-8.6 A5.2,8.6 0 0 1 1.9,8.6" fill="none" stroke-width="1.5"/><path d="M3.8,-8.6 A5.2,8.6 0 0 1 3.8,8.6" fill="none" stroke-width="1.5"/><path d="M5.8,-8.6 A5.2,8.6 0 0 1 5.8,8.6" fill="none" stroke-width="1.5"/><path d="M7.7,-8.6 A5.2,8.6 0 0 1 7.7,8.6" fill="none" stroke-width="1.5"/><path d="M9.6,-8.6 A5.2,8.6 0 0 1 9.6,8.6" fill="none" stroke-width="1.5"/><path d="M11.5,-8.6 A5.2,8.6 0 0 1 11.5,8.6" fill="none" stroke-width="1.5"/><ellipse cx="0" cy="0" rx="3.1" ry="5.2" fill="#000" stroke="none"/><ellipse cx="0.3" cy="0" rx="1.4" ry="2.3" fill="#fff" stroke="none"/></g></g></g>
<path d="M110.4,825.5 L110.4,844.9 M113.0,825.5 L113.0,844.9" stroke-width="1.2" fill="none"/><g transform="translate(111.7,842.9)"><path d="M-9.5,10 L-9.5,27 Q-9.5,41 4,44 L13,46.5 L18,28 L12.5,26 Q9.5,25 9.5,19 L9.5,10 Z" stroke-width="2.6"/><path d="M-4.5,17 L-4.5,26 L1,28 L1,34 L7,36" fill="none" stroke-width="1.6"/><rect x="-10.2" y="1" width="20.4" height="14" stroke-width="2.6"/><path d="M-10.2,13.2 L10.2,13.2" stroke-width="2.6"/><ellipse cx="0" cy="2.2" rx="10.2" ry="3.4" fill="#000" stroke-width="2"/><ellipse cx="0" cy="1.6" rx="4.6" ry="1.5" fill="#fff" stroke="none"/><g transform="translate(13.5,36.5) rotate(15)"><g transform="translate(13.5,0) scale(-1,1)"><path d="M0.0,-8.6 L12.5,-8.6 A5.2,8.6 0 0 1 12.5,8.6 L0.0,8.6 A5.2,8.6 0 0 1 0.0,-8.6 Z" fill="#fff" stroke-width="2.5"/><ellipse cx="0.0" cy="0" rx="5.2" ry="8.6" fill="#fff" stroke-width="2.5"/><path d="M1.9,-8.6 A5.2,8.6 0 0 1 1.9,8.6" fill="none" stroke-width="1.5"/><path d="M3.8,-8.6 A5.2,8.6 0 0 1 3.8,8.6" fill="none" stroke-width="1.5"/><path d="M5.8,-8.6 A5.2,8.6 0 0 1 5.8,8.6" fill="none" stroke-width="1.5"/><path d="M7.7,-8.6 A5.2,8.6 0 0 1 7.7,8.6" fill="none" stroke-width="1.5"/><path d="M9.6,-8.6 A5.2,8.6 0 0 1 9.6,8.6" fill="none" stroke-width="1.5"/><path d="M11.5,-8.6 A5.2,8.6 0 0 1 11.5,8.6" fill="none" stroke-width="1.5"/><ellipse cx="0" cy="0" rx="3.1" ry="5.2" fill="#000" stroke="none"/><ellipse cx="0.3" cy="0" rx="1.4" ry="2.3" fill="#fff" stroke="none"/></g></g></g>
<path d="M74.9,877 L74.9,897.3 M77.5,877 L77.5,897.3" stroke-width="1.2" fill="none"/><g transform="translate(76.2,895.3)"><path d="M-9.5,10 L-9.5,27 Q-9.5,41 4,44 L13,46.5 L18,28 L12.5,26 Q9.5,25 9.5,19 L9.5,10 Z" stroke-width="2.6"/><path d="M-4.5,17 L-4.5,26 L1,28 L1,34 L7,36" fill="none" stroke-width="1.6"/><rect x="-10.2" y="1" width="20.4" height="14" stroke-width="2.6"/><path d="M-10.2,13.2 L10.2,13.2" stroke-width="2.6"/><ellipse cx="0" cy="2.2" rx="10.2" ry="3.4" fill="#000" stroke-width="2"/><ellipse cx="0" cy="1.6" rx="4.6" ry="1.5" fill="#fff" stroke="none"/><g transform="translate(13.5,36.5) rotate(15)"><g transform="translate(13.5,0) scale(-1,1)"><path d="M0.0,-8.6 L12.5,-8.6 A5.2,8.6 0 0 1 12.5,8.6 L0.0,8.6 A5.2,8.6 0 0 1 0.0,-8.6 Z" fill="#fff" stroke-width="2.5"/><ellipse cx="0.0" cy="0" rx="5.2" ry="8.6" fill="#fff" stroke-width="2.5"/><path d="M1.9,-8.6 A5.2,8.6 0 0 1 1.9,8.6" fill="none" stroke-width="1.5"/><path d="M3.8,-8.6 A5.2,8.6 0 0 1 3.8,8.6" fill="none" stroke-width="1.5"/><path d="M5.8,-8.6 A5.2,8.6 0 0 1 5.8,8.6" fill="none" stroke-width="1.5"/><path d="M7.7,-8.6 A5.2,8.6 0 0 1 7.7,8.6" fill="none" stroke-width="1.5"/><path d="M9.6,-8.6 A5.2,8.6 0 0 1 9.6,8.6" fill="none" stroke-width="1.5"/><path d="M11.5,-8.6 A5.2,8.6 0 0 1 11.5,8.6" fill="none" stroke-width="1.5"/><ellipse cx="0" cy="0" rx="3.1" ry="5.2" fill="#000" stroke="none"/><ellipse cx="0.3" cy="0" rx="1.4" ry="2.3" fill="#fff" stroke="none"/></g></g></g>
<g transform="translate(593,1127) rotate(-3)"><path d="M-29,-9 Q-32,11 -12,16 Q0,19 12,16 Q32,11 29,-9 L13,-12 Q10,-1 0,0 Q-10,-1 -13,-12 Z" stroke-width="2.6"/><path d="M-19,-2 Q-8,10 0,10 Q10,10 19,-2" fill="none" stroke-width="1.4"/><g transform="translate(-21.5,-10) rotate(-78)"><path d="M0.0,-8.0 L8.0,-8.0 A4.0,8.0 0 0 0 8.0,8.0 L0.0,8.0 A4.0,8.0 0 0 0 0.0,-8.0 Z" fill="#fff" stroke-width="2.5"/><ellipse cx="8.0" cy="0" rx="4.0" ry="8.0" fill="#fff" stroke-width="2.5"/><path d="M2.3,-8.0 A4.0,8.0 0 0 0 2.3,8.0" fill="none" stroke-width="1.5"/><path d="M4.6,-8.0 A4.0,8.0 0 0 0 4.6,8.0" fill="none" stroke-width="1.5"/><path d="M6.9,-8.0 A4.0,8.0 0 0 0 6.9,8.0" fill="none" stroke-width="1.5"/></g><g transform="translate(21.5,-10) rotate(-102)"><path d="M0.0,-8.0 L8.0,-8.0 A4.0,8.0 0 0 0 8.0,8.0 L0.0,8.0 A4.0,8.0 0 0 0 0.0,-8.0 Z" fill="#fff" stroke-width="2.5"/><ellipse cx="8.0" cy="0" rx="4.0" ry="8.0" fill="#fff" stroke-width="2.5"/><path d="M2.3,-8.0 A4.0,8.0 0 0 0 2.3,8.0" fill="none" stroke-width="1.5"/><path d="M4.6,-8.0 A4.0,8.0 0 0 0 4.6,8.0" fill="none" stroke-width="1.5"/><path d="M6.9,-8.0 A4.0,8.0 0 0 0 6.9,8.0" fill="none" stroke-width="1.5"/></g></g>
<g transform="translate(644.0,1115.0) rotate(-14.0)"><path d="M-18.0,0 L0.0,0" stroke="#000" stroke-width="4.8"/><path d="M-18.0,0 L0.0,0" stroke="#fff" stroke-width="2.6"/><path d="M17.0,-10.0 L46.0,-10.0 A3.6,10.0 0 0 1 46.0,10.0 L17.0,10.0 A3.6,10.0 0 0 1 17.0,-10.0 Z" fill="#fff" stroke-width="2.5"/><ellipse cx="17.0" cy="0" rx="3.6" ry="10.0" fill="#fff" stroke-width="2.5"/><path d="M19.0,-6.7 L43.5,-6.7 M19.0,-4.3 L43.5,-4.3" stroke-width="1"/><path d="M19.0,4.3 L43.5,4.3 M19.0,6.7 L43.5,6.7" stroke-width="1"/><path d="M0.0,-11.6 L16.0,-11.6 A7.0,11.6 0 0 1 16.0,11.6 L0.0,11.6 A7.0,11.6 0 0 1 0.0,-11.6 Z" fill="#fff" stroke-width="2.5"/><ellipse cx="0.0" cy="0" rx="7.0" ry="11.6" fill="#fff" stroke-width="2.5"/><path d="M0.0,-5.2 L21.9,-5.2 M0.0,6.4 L21.6,6.4" stroke-width="1.1"/><ellipse cx="0.0" cy="0" rx="5.2" ry="8.6" fill="#000" stroke="none"/><ellipse cx="0.6" cy="0.5" rx="2.1" ry="3.5" fill="#fff" stroke="none"/></g>
<g transform="translate(1310,490) scale(0.09506)" stroke-width="26" stroke-linejoin="round" stroke-linecap="round"><path d="M40,492 L210,438" stroke-width="30"/><path d="M40,492 L210,438" stroke="#fff" stroke-width="12"/><path d="M150,395 L355,300 L355,520 L205,545 Q140,540 135,470 Q135,410 150,395 Z" fill="#000"/><path d="M245,355 Q275,430 255,528 M280,340 Q310,420 290,522 M315,325 Q345,410 325,518 M210,372 Q240,440 220,535" fill="none" stroke="#fff" stroke-width="7"/><ellipse cx="178" cy="468" rx="38" ry="68" fill="#fff" stroke-width="14" transform="rotate(-12 178 468)"/><path d="M375,620 L375,520 L355,520 L355,310 Q440,255 540,310 Q585,350 580,450 L580,620 Z"/><path d="M405,375 L405,465 L470,465 L470,545 L535,545" fill="none" stroke-width="15"/><rect x="377" y="615" width="178" height="112"/><path d="M377,648 L555,648 M377,676 L555,676 M377,703 L555,703" stroke-width="13"/><path d="M456,740 L456,860 M474,740 L474,860" stroke-width="7"/><path d="M1540,330 L1683,290" stroke-width="8"/><path d="M1430,265 L1505,255 Q1535,300 1535,395 L1445,442 Z" fill="#000"/><path d="M1462,268 Q1485,340 1475,425 M1490,262 Q1515,330 1505,410" fill="none" stroke="#fff" stroke-width="7"/><path d="M1095,640 L1095,420 Q1100,330 1180,310 L1430,265 L1445,442 L1330,470 Q1285,485 1280,540 L1280,640 Z"/><path d="M1195,575 L1210,420 Q1225,365 1290,350 L1365,333 L1370,375 L1320,420 Q1270,450 1265,560 Z" stroke-width="14"/><rect x="1100" y="640" width="185" height="128"/><path d="M1100,675 L1285,675 M1100,705 L1285,705 M1100,735 L1285,735" stroke-width="13"/><path d="M1189,780 L1189,890 M1207,780 L1207,890" stroke-width="7"/></g>
<g transform="translate(1086,2194)"><path d="M-9,10 L-9,22 L-18,20 L-20,40 L-6,45 Q16,47 16,24 L16,10 Z" stroke-width="2.6"/><path d="M-2,16 L-2,28 L-8,28 L-8,38 L0,38" fill="none" stroke-width="1.8"/><g transform="translate(3,-2) rotate(90)"><rect x="0.0" y="-8.6" width="13.0" height="17.2" fill="#fff" stroke-width="2.5"/><path d="M2.9,-8.6 L2.9,8.6" fill="none" stroke-width="1.5"/><path d="M5.8,-8.6 L5.8,8.6" fill="none" stroke-width="1.5"/><path d="M8.7,-8.6 L8.7,8.6" fill="none" stroke-width="1.5"/><path d="M11.6,-8.6 L11.6,8.6" fill="none" stroke-width="1.5"/></g><g transform="translate(-27,28) rotate(15)"><path d="M0.0,-8.4 L10.0,-8.4 A5.0,8.4 0 0 1 10.0,8.4 L0.0,8.4 A5.0,8.4 0 0 1 0.0,-8.4 Z" fill="#fff" stroke-width="2.5"/><ellipse cx="0.0" cy="0" rx="5.0" ry="8.4" fill="#fff" stroke-width="2.5"/><path d="M2.2,-8.4 A5.0,8.4 0 0 1 2.2,8.4" fill="none" stroke-width="1.5"/><path d="M4.4,-8.4 A5.0,8.4 0 0 1 4.4,8.4" fill="none" stroke-width="1.5"/><path d="M6.7,-8.4 A5.0,8.4 0 0 1 6.7,8.4" fill="none" stroke-width="1.5"/><path d="M8.9,-8.4 A5.0,8.4 0 0 1 8.9,8.4" fill="none" stroke-width="1.5"/><ellipse cx="0" cy="0" rx="2.8" ry="4.6" fill="#000" stroke="none"/></g></g>
</g>

<!-- lower assembly -->
<g id="lower" stroke="#000" fill="#fff" stroke-linejoin="round" stroke-linecap="butt">
<path d="M1178.5,1511.0 C1188.9,1508.7 1223.1,1500.6 1241.0,1497.0 C1258.9,1493.4 1272.8,1491.2 1286.0,1489.5 C1299.2,1487.8 1310.2,1487.1 1320.0,1487.0 C1329.8,1486.9 1337.3,1487.7 1345.0,1489.0 C1352.7,1490.3 1360.8,1492.2 1366.0,1495.0 C1371.2,1497.8 1375.8,1502.6 1376.5,1505.5 C1377.2,1508.4 1374.2,1510.8 1370.0,1512.5 C1365.8,1514.2 1359.4,1513.8 1351.5,1516.0 C1343.6,1518.2 1331.8,1522.4 1322.8,1525.6 C1313.8,1528.8 1304.8,1532.7 1297.8,1535.0 C1290.8,1537.3 1283.8,1538.8 1281.0,1539.5" fill="none" stroke="#000" stroke-width="13.0" stroke-linecap="butt" stroke-linejoin="round"/>
<path d="M1178.5,1511.0 C1188.9,1508.7 1223.1,1500.6 1241.0,1497.0 C1258.9,1493.4 1272.8,1491.2 1286.0,1489.5 C1299.2,1487.8 1310.2,1487.1 1320.0,1487.0 C1329.8,1486.9 1337.3,1487.7 1345.0,1489.0 C1352.7,1490.3 1360.8,1492.2 1366.0,1495.0 C1371.2,1497.8 1375.8,1502.6 1376.5,1505.5 C1377.2,1508.4 1374.2,1510.8 1370.0,1512.5 C1365.8,1514.2 1359.4,1513.8 1351.5,1516.0 C1343.6,1518.2 1331.8,1522.4 1322.8,1525.6 C1313.8,1528.8 1304.8,1532.7 1297.8,1535.0 C1290.8,1537.3 1283.8,1538.8 1281.0,1539.5" fill="none" stroke="#fff" stroke-width="7.6" stroke-linecap="butt" stroke-linejoin="round"/>
<g transform="translate(1178.5,1511.0) rotate(-13.0)"><path d="M0.0,-5.3 L17.0,-5.3 A2.6,5.3 0 0 1 17.0,5.3 L0.0,5.3 A2.6,5.3 0 0 1 0.0,-5.3 Z" fill="#fff" stroke-width="2.5"/><ellipse cx="0.0" cy="0" rx="2.6" ry="5.3" fill="#fff" stroke-width="2.5"/><path d="M2.3,-5.3 A2.6,5.3 0 0 1 2.3,5.3" fill="none" stroke-width="1.5"/><path d="M4.5,-5.3 A2.6,5.3 0 0 1 4.5,5.3" fill="none" stroke-width="1.5"/><path d="M6.8,-5.3 A2.6,5.3 0 0 1 6.8,5.3" fill="none" stroke-width="1.5"/><path d="M9.1,-5.3 A2.6,5.3 0 0 1 9.1,5.3" fill="none" stroke-width="1.5"/><path d="M11.3,-5.3 A2.6,5.3 0 0 1 11.3,5.3" fill="none" stroke-width="1.5"/><path d="M13.6,-5.3 A2.6,5.3 0 0 1 13.6,5.3" fill="none" stroke-width="1.5"/><path d="M15.9,-5.3 A2.6,5.3 0 0 1 15.9,5.3" fill="none" stroke-width="1.5"/></g>
<g transform="translate(1281.0,1539.5) rotate(-15.0)"><path d="M0.0,-5.3 L17.0,-5.3 A2.6,5.3 0 0 1 17.0,5.3 L0.0,5.3 A2.6,5.3 0 0 1 0.0,-5.3 Z" fill="#fff" stroke-width="2.5"/><ellipse cx="0.0" cy="0" rx="2.6" ry="5.3" fill="#fff" stroke-width="2.5"/><path d="M2.3,-5.3 A2.6,5.3 0 0 1 2.3,5.3" fill="none" stroke-width="1.5"/><path d="M4.5,-5.3 A2.6,5.3 0 0 1 4.5,5.3" fill="none" stroke-width="1.5"/><path d="M6.8,-5.3 A2.6,5.3 0 0 1 6.8,5.3" fill="none" stroke-width="1.5"/><path d="M9.1,-5.3 A2.6,5.3 0 0 1 9.1,5.3" fill="none" stroke-width="1.5"/><path d="M11.3,-5.3 A2.6,5.3 0 0 1 11.3,5.3" fill="none" stroke-width="1.5"/><path d="M13.6,-5.3 A2.6,5.3 0 0 1 13.6,5.3" fill="none" stroke-width="1.5"/><path d="M15.9,-5.3 A2.6,5.3 0 0 1 15.9,5.3" fill="none" stroke-width="1.5"/></g>
<path d="M1178.5,1906.0 C1188.9,1903.7 1223.1,1895.6 1241.0,1892.0 C1258.9,1888.4 1272.8,1886.2 1286.0,1884.5 C1299.2,1882.8 1310.2,1882.1 1320.0,1882.0 C1329.8,1881.9 1337.3,1882.7 1345.0,1884.0 C1352.7,1885.3 1360.8,1887.2 1366.0,1890.0 C1371.2,1892.8 1375.8,1897.6 1376.5,1900.5 C1377.2,1903.4 1374.2,1905.8 1370.0,1907.5 C1365.8,1909.2 1359.4,1908.8 1351.5,1911.0 C1343.6,1913.2 1331.8,1917.4 1322.8,1920.6 C1313.8,1923.8 1304.8,1927.7 1297.8,1930.0 C1290.8,1932.3 1283.8,1933.8 1281.0,1934.5" fill="none" stroke="#000" stroke-width="13.0" stroke-linecap="butt" stroke-linejoin="round"/>
<path d="M1178.5,1906.0 C1188.9,1903.7 1223.1,1895.6 1241.0,1892.0 C1258.9,1888.4 1272.8,1886.2 1286.0,1884.5 C1299.2,1882.8 1310.2,1882.1 1320.0,1882.0 C1329.8,1881.9 1337.3,1882.7 1345.0,1884.0 C1352.7,1885.3 1360.8,1887.2 1366.0,1890.0 C1371.2,1892.8 1375.8,1897.6 1376.5,1900.5 C1377.2,1903.4 1374.2,1905.8 1370.0,1907.5 C1365.8,1909.2 1359.4,1908.8 1351.5,1911.0 C1343.6,1913.2 1331.8,1917.4 1322.8,1920.6 C1313.8,1923.8 1304.8,1927.7 1297.8,1930.0 C1290.8,1932.3 1283.8,1933.8 1281.0,1934.5" fill="none" stroke="#fff" stroke-width="7.6" stroke-linecap="butt" stroke-linejoin="round"/>
<g transform="translate(1178.5,1906.0) rotate(-13.0)"><path d="M0.0,-5.3 L17.0,-5.3 A2.6,5.3 0 0 1 17.0,5.3 L0.0,5.3 A2.6,5.3 0 0 1 0.0,-5.3 Z" fill="#fff" stroke-width="2.5"/><ellipse cx="0.0" cy="0" rx="2.6" ry="5.3" fill="#fff" stroke-width="2.5"/><path d="M2.3,-5.3 A2.6,5.3 0 0 1 2.3,5.3" fill="none" stroke-width="1.5"/><path d="M4.5,-5.3 A2.6,5.3 0 0 1 4.5,5.3" fill="none" stroke-width="1.5"/><path d="M6.8,-5.3 A2.6,5.3 0 0 1 6.8,5.3" fill="none" stroke-width="1.5"/><path d="M9.1,-5.3 A2.6,5.3 0 0 1 9.1,5.3" fill="none" stroke-width="1.5"/><path d="M11.3,-5.3 A2.6,5.3 0 0 1 11.3,5.3" fill="none" stroke-width="1.5"/><path d="M13.6,-5.3 A2.6,5.3 0 0 1 13.6,5.3" fill="none" stroke-width="1.5"/><path d="M15.9,-5.3 A2.6,5.3 0 0 1 15.9,5.3" fill="none" stroke-width="1.5"/></g>
<g transform="translate(1281.0,1934.5) rotate(-15.0)"><path d="M0.0,-5.3 L17.0,-5.3 A2.6,5.3 0 0 1 17.0,5.3 L0.0,5.3 A2.6,5.3 0 0 1 0.0,-5.3 Z" fill="#fff" stroke-width="2.5"/><ellipse cx="0.0" cy="0" rx="2.6" ry="5.3" fill="#fff" stroke-width="2.5"/><path d="M2.3,-5.3 A2.6,5.3 0 0 1 2.3,5.3" fill="none" stroke-width="1.5"/><path d="M4.5,-5.3 A2.6,5.3 0 0 1 4.5,5.3" fill="none" stroke-width="1.5"/><path d="M6.8,-5.3 A2.6,5.3 0 0 1 6.8,5.3" fill="none" stroke-width="1.5"/><path d="M9.1,-5.3 A2.6,5.3 0 0 1 9.1,5.3" fill="none" stroke-width="1.5"/><path d="M11.3,-5.3 A2.6,5.3 0 0 1 11.3,5.3" fill="none" stroke-width="1.5"/><path d="M13.6,-5.3 A2.6,5.3 0 0 1 13.6,5.3" fill="none" stroke-width="1.5"/><path d="M15.9,-5.3 A2.6,5.3 0 0 1 15.9,5.3" fill="none" stroke-width="1.5"/></g>
<path d="M1034.2,1463 L1034.2,2139.5 A54.3,15 0 0 0 1142.8,2139.5 L1142.8,1463 A54.3,14.3 0 0 0 1034.2,1463 Z" stroke-width="2.6"/>
<path d="M1034.2,1477 A54.3,15 0 0 0 1142.8,1477" fill="none" stroke="#c3c4c6" stroke-width="2.4"/>
<ellipse cx="1088.5" cy="1463" rx="54.3" ry="14.3" stroke-width="2.6"/>
<ellipse cx="1088.5" cy="1463" rx="35" ry="9" stroke-width="2"/>
<ellipse cx="1088.5" cy="1462.5" rx="30.5" ry="7.3" stroke-width="1.6"/>
<ellipse cx="1088.4" cy="1462" rx="9" ry="2.6" stroke-width="2.2"/>
<ellipse cx="1045.2" cy="1463.3" rx="5" ry="1.7" stroke-width="1.5"/>
<ellipse cx="1131.8" cy="1463" rx="5" ry="1.7" stroke-width="1.5"/>
<ellipse cx="1128.7" cy="1524" rx="6.2" ry="9.5" stroke-width="2.8"/>
<path d="M1125,1519 Q1130,1523 1133,1519 M1124,1524 Q1129,1528 1134,1523 M1124.5,1529 Q1129,1533 1133.5,1528" fill="none" stroke="#58595b" stroke-width="1"/>
<path d="M1087.3,1445 L1087.3,1461 M1089.7,1445 L1089.7,1461" stroke-width="1.2" fill="none"/>
<path d="M1088.5,2162 L1088.5,2188" stroke-width="1.4" fill="none"/>
<ellipse cx="1088.3" cy="1437.5" rx="15.7" ry="5.6" stroke-width="2"/>
<ellipse cx="1088.3" cy="1435" rx="15.7" ry="5.6" stroke-width="2"/>
<ellipse cx="1088.3" cy="1434.6" rx="8.5" ry="2.8" stroke-width="1.8"/>
<path d="M1087.3,1422 L1087.3,1434 M1089.7,1422 L1089.7,1434" stroke-width="1.2" fill="none"/>
<path d="M1087.3,1371 L1087.3,1383 M1089.7,1371 L1089.7,1383" stroke-width="1.2" fill="none"/>
<path d="M1088.6,1352 L1088.6,1330 C1088.6,1300 1100,1289 1125,1281 L1240,1247 L1362,1174 Q1370,1169 1380,1171 L1394,1176" fill="none" stroke="#000" stroke-width="11.6"/>
<path d="M1088.6,1352 L1088.6,1330 C1088.6,1300 1100,1289 1125,1281 L1240,1247 L1362,1174 Q1370,1169 1380,1171 L1394,1176" fill="none" stroke="#fff" stroke-width="6.4"/>
<g transform="translate(1088.5,1350.0) rotate(90.0)"><path d="M2.5,-13.6 L18.0,-13.6 L20.5,-11.1 L20.5,11.1 L18.0,13.6 L2.5,13.6 L0.0,11.1 L0.0,-11.1 Z" fill="#fff" stroke-width="2.5"/><path d="M0.0,-6.8 L20.5,-6.8 M0.0,6.8 L20.5,6.8" stroke-width="1.1"/><path d="M2.5,-6.8 Q-0.5,0 2.5,6.8 M18.0,-6.8 Q21.0,0 18.0,6.8" stroke-width="1.1"/></g>
<g transform="translate(1398.0,1175.0) rotate(20.0)"><g transform="translate(20,0) scale(-1,1)"><path d="M0.0,-12.5 L17.0,-12.5 A7.5,12.5 0 0 1 17.0,12.5 L0.0,12.5 A7.5,12.5 0 0 1 0.0,-12.5 Z" fill="#fff" stroke-width="2.5"/><ellipse cx="0.0" cy="0" rx="7.5" ry="12.5" fill="#fff" stroke-width="2.5"/><path d="M0.0,-5.6 L23.4,-5.6 M0.0,6.9 L23.0,6.9" stroke-width="1.1"/><ellipse cx="0.0" cy="0" rx="5.5" ry="9.2" fill="#000" stroke="none"/><ellipse cx="0.6" cy="0.5" rx="2.2" ry="3.8" fill="#fff" stroke="none"/></g></g>
<g transform="translate(1437.0,1183.0) rotate(21.0)"><path d="M-12.0,0 L0.0,0" stroke="#000" stroke-width="4.2"/><path d="M-12.0,0 L0.0,0" stroke="#fff" stroke-width="2.0"/><g transform="translate(58,0) scale(-1,1)"><path d="M48.0,-7.8 L58.0,-7.8 A4.3,7.8 0 0 1 58.0,7.8 L48.0,7.8 A4.3,7.8 0 0 1 48.0,-7.8 Z" fill="#fff" stroke-width="2.5"/><ellipse cx="48.0" cy="0" rx="4.3" ry="7.8" fill="#fff" stroke-width="2.5"/><path d="M50.2,-7.8 A4.3,7.8 0 0 1 50.2,7.8" fill="none" stroke-width="1.5"/><path d="M52.4,-7.8 A4.3,7.8 0 0 1 52.4,7.8" fill="none" stroke-width="1.5"/><path d="M54.7,-7.8 A4.3,7.8 0 0 1 54.7,7.8" fill="none" stroke-width="1.5"/><path d="M56.9,-7.8 A4.3,7.8 0 0 1 56.9,7.8" fill="none" stroke-width="1.5"/><path d="M34.0,-11.8 L48.0,-11.8 A5.3,11.8 0 0 1 48.0,11.8 L34.0,11.8 A5.3,11.8 0 0 1 34.0,-11.8 Z" fill="#fff" stroke-width="2.5"/><ellipse cx="34.0" cy="0" rx="5.3" ry="11.8" fill="#fff" stroke-width="2.5"/><path d="M34.0,-5.3 L52.5,-5.3 M34.0,6.5 L52.2,6.5" stroke-width="1.1"/><path d="M24.0,-8.6 L34.0,-8.6 A4.3,8.6 0 0 1 34.0,8.6 L24.0,8.6 A4.3,8.6 0 0 1 24.0,-8.6 Z" fill="#fff" stroke-width="2.5"/><ellipse cx="24.0" cy="0" rx="4.3" ry="8.6" fill="#fff" stroke-width="2.5"/><path d="M26.2,-8.6 A4.3,8.6 0 0 1 26.2,8.6" fill="none" stroke-width="1.5"/><path d="M28.4,-8.6 A4.3,8.6 0 0 1 28.4,8.6" fill="none" stroke-width="1.5"/><path d="M30.7,-8.6 A4.3,8.6 0 0 1 30.7,8.6" fill="none" stroke-width="1.5"/><path d="M32.9,-8.6 A4.3,8.6 0 0 1 32.9,8.6" fill="none" stroke-width="1.5"/><path d="M10.0,-11.8 L26.0,-11.8 A5.3,11.8 0 0 1 26.0,11.8 L10.0,11.8 A5.3,11.8 0 0 1 10.0,-11.8 Z" fill="#fff" stroke-width="2.5"/><ellipse cx="10.0" cy="0" rx="5.3" ry="11.8" fill="#fff" stroke-width="2.5"/><path d="M10.0,-5.3 L30.5,-5.3 M10.0,6.5 L30.2,6.5" stroke-width="1.1"/><path d="M0.0,-7.8 L12.0,-7.8 A4.3,7.8 0 0 1 12.0,7.8 L0.0,7.8 A4.3,7.8 0 0 1 0.0,-7.8 Z" fill="#fff" stroke-width="2.5"/><ellipse cx="0.0" cy="0" rx="4.3" ry="7.8" fill="#fff" stroke-width="2.5"/><path d="M1.8,-7.8 A4.3,7.8 0 0 1 1.8,7.8" fill="none" stroke-width="1.5"/><path d="M3.7,-7.8 A4.3,7.8 0 0 1 3.7,7.8" fill="none" stroke-width="1.5"/><path d="M5.5,-7.8 A4.3,7.8 0 0 1 5.5,7.8" fill="none" stroke-width="1.5"/><path d="M7.4,-7.8 A4.3,7.8 0 0 1 7.4,7.8" fill="none" stroke-width="1.5"/><path d="M9.2,-7.8 A4.3,7.8 0 0 1 9.2,7.8" fill="none" stroke-width="1.5"/><path d="M11.1,-7.8 A4.3,7.8 0 0 1 11.1,7.8" fill="none" stroke-width="1.5"/><ellipse cx="0" cy="0" rx="2.6" ry="4.8" fill="#000" stroke="none"/></g><path d="M58.0,0 L72.0,0" stroke="#000" stroke-width="4.2"/><path d="M58.0,0 L72.0,0" stroke="#fff" stroke-width="2.0"/></g>
<g fill="none" stroke="#000" stroke-width="2.3" stroke-dasharray="5.5 2.8"><path d="M1523,1199 Q1513,1197 1511,1208 Q1509,1222 1520,1226 Q1532,1228 1536,1219 Q1540,1205 1523,1199 Z"/><path d="M1540,1209 L1745,1259.5 Q1778,1266 1782,1248 Q1784,1232 1767,1230"/><path d="M1534,1222 L1738,1274 Q1790,1284 1794,1246 Q1795,1218 1765,1219"/><path d="M1524,1203 Q1540,1203 1538,1211 Q1536,1221 1524,1222"/></g>
<path d="M888,1575 L888,2120 C888,2165 905,2180 944,2190" fill="none" stroke="#000" stroke-width="11.8"/>
<path d="M888,1575 L888,2120 C888,2165 905,2180 944,2190" fill="none" stroke="#c7c8ca" stroke-width="6.6"/>
<g transform="translate(889.0,1555.5) rotate(90.0)"><path d="M2.5,-14.5 L17.0,-14.5 L19.5,-12.0 L19.5,12.0 L17.0,14.5 L2.5,14.5 L0.0,12.0 L0.0,-12.0 Z" fill="#fff" stroke-width="2.5"/><path d="M0.0,-7.2 L19.5,-7.2 M0.0,7.2 L19.5,7.2" stroke-width="1.1"/><path d="M2.5,-7.2 Q-0.5,0 2.5,7.2 M17.0,-7.2 Q20.0,0 17.0,7.2" stroke-width="1.1"/></g>
<g transform="translate(941.0,2190.5) rotate(15.0)"><g transform="translate(22,0) scale(-1,1)"><path d="M0.0,-12.8 L17.0,-12.8 A7.7,12.8 0 0 1 17.0,12.8 L0.0,12.8 A7.7,12.8 0 0 1 0.0,-12.8 Z" fill="#fff" stroke-width="2.5"/><ellipse cx="0.0" cy="0" rx="7.7" ry="12.8" fill="#fff" stroke-width="2.5"/><path d="M0.0,-5.8 L23.5,-5.8 M0.0,7.0 L23.1,7.0" stroke-width="1.1"/><ellipse cx="0.0" cy="0" rx="5.7" ry="9.5" fill="#000" stroke="none"/><ellipse cx="0.6" cy="0.5" rx="2.3" ry="3.8" fill="#fff" stroke="none"/></g></g>
<g transform="translate(953.5,1573.0) rotate(-14.0)"><ellipse cx="2" cy="0" rx="5.2" ry="7.6" fill="#000" stroke-width="1.6"/><path d="M2,-7.6 L-5,-6.4 Q-9,0 -5,6.4 L2,7.6 Z" fill="#000" stroke-width="1.6"/><ellipse cx="-4.5" cy="0" rx="4.6" ry="6.8" fill="#000" stroke-width="1.4"/><ellipse cx="-4.2" cy="0.2" rx="2.3" ry="3.8" fill="#58595b" stroke="#fff" stroke-width="1"/></g>
<ellipse cx="979.8" cy="1565.5" rx="4.2" ry="6" fill="none" stroke="#c3c4c6" stroke-width="1.8"/>
<g transform="translate(1052.5,1598.5) rotate(-14.0)"><ellipse cx="2" cy="0" rx="5.2" ry="7.6" fill="#000" stroke-width="1.6"/><path d="M2,-7.6 L-5,-6.4 Q-9,0 -5,6.4 L2,7.6 Z" fill="#000" stroke-width="1.6"/><ellipse cx="-4.5" cy="0" rx="4.6" ry="6.8" fill="#000" stroke-width="1.4"/><ellipse cx="-4.2" cy="0.2" rx="2.3" ry="3.8" fill="#58595b" stroke="#fff" stroke-width="1"/></g>
<ellipse cx="1078.8" cy="1591.0" rx="4.2" ry="6" fill="none" stroke="#c3c4c6" stroke-width="1.8"/>
<g transform="translate(953.5,1966.0) rotate(-14.0)"><ellipse cx="2" cy="0" rx="5.2" ry="7.6" fill="#000" stroke-width="1.6"/><path d="M2,-7.6 L-5,-6.4 Q-9,0 -5,6.4 L2,7.6 Z" fill="#000" stroke-width="1.6"/><ellipse cx="-4.5" cy="0" rx="4.6" ry="6.8" fill="#000" stroke-width="1.4"/><ellipse cx="-4.2" cy="0.2" rx="2.3" ry="3.8" fill="#58595b" stroke="#fff" stroke-width="1"/></g>
<ellipse cx="979.8" cy="1958.5" rx="4.2" ry="6" fill="none" stroke="#c3c4c6" stroke-width="1.8"/>
<g transform="translate(1052.5,1991.5) rotate(-14.0)"><ellipse cx="2" cy="0" rx="5.2" ry="7.6" fill="#000" stroke-width="1.6"/><path d="M2,-7.6 L-5,-6.4 Q-9,0 -5,6.4 L2,7.6 Z" fill="#000" stroke-width="1.6"/><ellipse cx="-4.5" cy="0" rx="4.6" ry="6.8" fill="#000" stroke-width="1.4"/><ellipse cx="-4.2" cy="0.2" rx="2.3" ry="3.8" fill="#58595b" stroke="#fff" stroke-width="1"/></g>
<ellipse cx="1078.8" cy="1984.0" rx="4.2" ry="6" fill="none" stroke="#c3c4c6" stroke-width="1.8"/>
</g>

<!-- axes -->
<g id="axes" fill="none">
<g stroke="#fff" stroke-width="4.5"><path d="M140,882.5 L205,900"/><path d="M102.5,935 L207.5,962.5"/><path d="M300,866 L381,886.5"/><path d="M424,899 L442.8,904"/><path d="M442.8,914 L442.8,951 L450.4,953"/><path d="M422.8,960.7 L441.8,965.5 L441.8,988.3 L450.4,990.2"/><path d="M367,1005.5 L450.4,1027.3"/><path d="M486.5,1037.8 L551.2,1054.9 L551.2,1120 L563,1122"/><path d="M1002.4,1487 L1002.4,1524.5 L889,1495.5 L889,1556"/><path d="M965,2197 L1052,2220"/><path d="M1085,1590 L1281,1538"/><path d="M1085,1983 L1281,1933"/><path d="M1249.6,855.5 L1249.6,860"/><path d="M1249.6,899 L1249.6,911"/><path d="M1513.2,806 L1513.2,819"/><path d="M1513.2,858 L1513.2,869"/><path d="M1002.4,1411 L1002.4,1428"/><path d="M172.5,832.5 L207.5,842.5"/><path d="M986,1563.5 L1034,1552"/><path d="M1143,1523 L1160,1518"/><path d="M986,1956.5 L1034,1945"/><path d="M1143,1918 L1160,1913"/><path d="M960,1571.5 L974,1568"/><path d="M1060,1596.7 L1073,1593"/><path d="M960,1964.5 L974,1961"/><path d="M1060,1989.7 L1073,1986"/></g>
<g stroke="#000" stroke-width="1.4" stroke-dasharray="22 3 2.5 3"><path d="M140,882.5 L205,900"/><path d="M102.5,935 L207.5,962.5"/><path d="M300,866 L381,886.5"/><path d="M424,899 L442.8,904"/><path d="M442.8,914 L442.8,951 L450.4,953"/><path d="M422.8,960.7 L441.8,965.5 L441.8,988.3 L450.4,990.2"/><path d="M367,1005.5 L450.4,1027.3"/><path d="M486.5,1037.8 L551.2,1054.9 L551.2,1120 L563,1122"/><path d="M1002.4,1487 L1002.4,1524.5 L889,1495.5 L889,1556"/><path d="M965,2197 L1052,2220"/><path d="M1085,1590 L1281,1538"/><path d="M1085,1983 L1281,1933"/></g>
<g stroke="#000" stroke-width="1.4"><path d="M1249.6,855.5 L1249.6,860"/><path d="M1249.6,899 L1249.6,911"/><path d="M1513.2,806 L1513.2,819"/><path d="M1513.2,858 L1513.2,869"/><path d="M1002.4,1411 L1002.4,1428"/><path d="M172.5,832.5 L207.5,842.5"/><path d="M986,1563.5 L1034,1552"/><path d="M1143,1523 L1160,1518"/><path d="M986,1956.5 L1034,1945"/><path d="M1143,1918 L1160,1913"/><path d="M960,1571.5 L974,1568"/><path d="M1060,1596.7 L1073,1593"/><path d="M960,1964.5 L974,1961"/><path d="M1060,1989.7 L1073,1986"/></g>
<path d="M321,310.4 L347.1,305.8" stroke="#000" stroke-width="4.2"/><path d="M321,310.4 L347.1,305.8" stroke="#fff" stroke-width="2.0"/><path d="M335.5,316 L362.7,310.1" stroke="#000" stroke-width="4.2"/><path d="M335.5,316 L362.7,310.1" stroke="#fff" stroke-width="2.0"/><path d="M352,322.6 L378.5,314.5" stroke="#000" stroke-width="4.2"/><path d="M352,322.6 L378.5,314.5" stroke="#fff" stroke-width="2.0"/><path d="M301,928 L322,933.5" stroke="#000" stroke-width="4.2"/><path d="M301,928 L322,933.5" stroke="#fff" stroke-width="2.0"/><path d="M371,946 L385,949.7" stroke="#000" stroke-width="4.2"/><path d="M371,946 L385,949.7" stroke="#fff" stroke-width="2.0"/><path d="M301,990 L327,995.3" stroke="#000" stroke-width="4.2"/><path d="M301,990 L327,995.3" stroke="#fff" stroke-width="2.0"/><path d="M488,961.2 L516,969" stroke="#000" stroke-width="4.2"/><path d="M488,961.2 L516,969" stroke="#fff" stroke-width="2.0"/><path d="M488,999 L516,1007" stroke="#000" stroke-width="4.2"/><path d="M488,999 L516,1007" stroke="#fff" stroke-width="2.0"/><path d="M489,1067.5 L516,1075" stroke="#000" stroke-width="4.2"/><path d="M489,1067.5 L516,1075" stroke="#fff" stroke-width="2.0"/>
</g>

<!-- labels -->
<g id="labels">
<rect x="1179" y="1282" width="58.5" height="100" fill="#fff"/>
<rect x="1386" y="1402" width="59" height="53" fill="#fff"/>
<rect x="1182.5" y="1729.5" width="110" height="53" fill="#fff"/>
<g stroke="#fff" stroke-width="5.5" fill="none" stroke-linecap="butt">
<path d="M332.5,216.5 L370,256"/><path d="M261,570 L140,504"/><path d="M261,570 L185,493.5"/><path d="M261,570 L218.5,481"/><path d="M599,487.5 L637.5,528.5"/><path d="M599,641.5 L637.5,682.5"/><path d="M570,713.5 L407.5,881.5"/><path d="M570,758 L415,945"/><path d="M570,803.5 L487.5,922.5"/><path d="M199,778.5 L161,820"/><path d="M314,794 L289,835"/><path d="M396.5,811 L345,930"/><path d="M56.5,828 L107.5,860"/><path d="M56.5,984 L89,942.5"/><path d="M134,1066.5 L216,947.5"/><path d="M134,1066.5 L210,1007.5"/><path d="M282.5,1075 L336,1011"/><path d="M312.5,1157.4 L375.4,1046.6"/><path d="M312.5,1203.7 L429.6,1063.2"/><path d="M312.5,1249.6 L464.6,1077.2"/><path d="M312.5,1295.2 L516.1,1081.5"/><path d="M312.5,1340.8 L578.7,1138.1"/><path d="M590,891.5 L540,957.5"/><path d="M586,1097.5 L550,1025"/><path d="M726,1176 L767.5,1115"/><path d="M1122.5,431 L1075,460"/><path d="M906,529 L863.5,484"/><path d="M1321,437.5 L1351,520"/><path d="M1321,437.5 L1418.5,521"/><path d="M1113.5,645 L1066,676"/><path d="M906,758 L863.5,714"/><path d="M1142.5,823 L1202,772.5"/><path d="M1599.5,695 L1563,653.5"/><path d="M1198.5,924 L1241,879"/><path d="M1461,889 L1500,844"/><path d="M1077.5,1054 L1103.5,1100"/><path d="M942.5,1269 L986,1210"/><path d="M1132.5,1233.5 L1157.5,1269"/><path d="M1184,1333 L1100,1397"/><path d="M1184,1378 L1102.5,1436"/><path d="M926,1386 L990,1449.5"/><path d="M1391,1448.5 L1365,1488.5"/><path d="M1080,1679.5 L957.5,1582"/><path d="M1080,1679.5 L1055,1608"/><path d="M1187.5,1778 L1146.5,1738.5"/><path d="M1391,1843.5 L1365,1883"/><path d="M754,1945.5 L884,1852"/><path d="M1080,2073 L957.5,1976"/><path d="M1080,2073 L1055,2002"/><path d="M1020,2311 L1072.5,2234.5"/><path d="M1416.3,1278.7 L1467,1207.3"/>
</g>
<g stroke="#000" stroke-width="2.5" fill="none" stroke-linecap="round" stroke-linejoin="miter">
<path d="M287.2,216.5 L331.3,216.5"/><path d="M332.5,216.5 L370,256"/><path d="M262.2,570 L307.8,570"/><path d="M261,570 L140,504"/><path d="M261,570 L185,493.5"/><path d="M261,570 L218.5,481"/><path d="M553.7,487.5 L597.8,487.5"/><path d="M599,487.5 L637.5,528.5"/><path d="M553.7,641.5 L597.8,641.5"/><path d="M599,641.5 L637.5,682.5"/><path d="M571.2,713.5 L614.8,713.5"/><path d="M570,713.5 L407.5,881.5"/><path d="M571.2,758 L614.8,758"/><path d="M570,758 L415,945"/><path d="M571.2,803.5 L614.8,803.5"/><path d="M570,803.5 L487.5,922.5"/><path d="M200.2,778.5 L244.8,778.5"/><path d="M199,778.5 L161,820"/><path d="M315.2,794 L358.8,794"/><path d="M314,794 L289,835"/><path d="M397.7,811 L441.8,811"/><path d="M396.5,811 L345,930"/><path d="M11.2,828 L55.3,828"/><path d="M56.5,828 L107.5,860"/><path d="M11.2,984 L55.3,984"/><path d="M56.5,984 L89,942.5"/><path d="M87.2,1066.5 L132.8,1066.5"/><path d="M134,1066.5 L216,947.5"/><path d="M134,1066.5 L210,1007.5"/><path d="M237.2,1075 L281.3,1075"/><path d="M282.5,1075 L336,1011"/><path d="M267.2,1157.4 L311.3,1157.4"/><path d="M312.5,1157.4 L375.4,1046.6"/><path d="M267.2,1203.7 L311.3,1203.7"/><path d="M312.5,1203.7 L429.6,1063.2"/><path d="M267.2,1249.6 L311.3,1249.6"/><path d="M312.5,1249.6 L464.6,1077.2"/><path d="M267.2,1295.2 L311.3,1295.2"/><path d="M312.5,1295.2 L516.1,1081.5"/><path d="M267.2,1340.8 L311.3,1340.8"/><path d="M312.5,1340.8 L578.7,1138.1"/><path d="M591.2,891.5 L634.8,891.5"/><path d="M590,891.5 L540,957.5"/><path d="M587.2,1097.5 L631.3,1097.5"/><path d="M586,1097.5 L550,1025"/><path d="M680.2,1176 L724.8,1176"/><path d="M726,1176 L767.5,1115"/><path d="M1123.7,431 L1168.3,431"/><path d="M1122.5,431 L1075,460"/><path d="M907.2,529 L950.8,529"/><path d="M906,529 L863.5,484"/><path d="M1274.7,437.5 L1319.8,437.5"/><path d="M1321,437.5 L1351,520"/><path d="M1321,437.5 L1418.5,521"/><path d="M1114.7,645 L1159.8,645"/><path d="M1113.5,645 L1066,676"/><path d="M907.2,758 L950.8,758"/><path d="M906,758 L863.5,714"/><path d="M1051.2,823 L1141.3,823"/><path d="M1142.5,823 L1202,772.5"/><path d="M1600.7,695 L1697.3,695"/><path d="M1599.5,695 L1563,653.5"/><path d="M1153.2,924 L1197.3,924"/><path d="M1198.5,924 L1241,879"/><path d="M1415.7,889 L1459.8,889"/><path d="M1461,889 L1500,844"/><path d="M1032.2,1054 L1076.3,1054"/><path d="M1077.5,1054 L1103.5,1100"/><path d="M897.2,1269 L941.3,1269"/><path d="M942.5,1269 L986,1210"/><path d="M1086.2,1233.5 L1131.3,1233.5"/><path d="M1132.5,1233.5 L1157.5,1269"/><path d="M1185.2,1333 L1231.3,1333"/><path d="M1184,1333 L1100,1397"/><path d="M1185.2,1378 L1231.3,1378"/><path d="M1184,1378 L1102.5,1436"/><path d="M881.2,1386 L924.8,1386"/><path d="M926,1386 L990,1449.5"/><path d="M1392.2,1448.5 L1437.3,1448.5"/><path d="M1391,1448.5 L1365,1488.5"/><path d="M1081.2,1679.5 L1126.3,1679.5"/><path d="M1080,1679.5 L957.5,1582"/><path d="M1080,1679.5 L1055,1608"/><path d="M1188.7,1778 L1281.3,1778"/><path d="M1187.5,1778 L1146.5,1738.5"/><path d="M1392.2,1843.5 L1437.3,1843.5"/><path d="M1391,1843.5 L1365,1883"/><path d="M708.7,1945.5 L752.8,1945.5"/><path d="M754,1945.5 L884,1852"/><path d="M1081.2,2073 L1126.3,2073"/><path d="M1080,2073 L957.5,1976"/><path d="M1080,2073 L1055,2002"/><path d="M975.2,2311 L1018.8,2311"/><path d="M1020,2311 L1072.5,2234.5"/><path d="M1371.0,1278.7 L1415.1,1278.7"/><path d="M1416.3,1278.7 L1467,1207.3"/>
</g>
<g font-size="38.5" text-anchor="middle" fill="#fff" stroke="#fff" stroke-width="4" stroke-linejoin="round">
<text x="308.6" y="210.3" textLength="46.8" lengthAdjust="spacingAndGlyphs">20</text><text x="284.4" y="563.8" textLength="46.8" lengthAdjust="spacingAndGlyphs">19</text><text x="575.1" y="481.3" textLength="23.3" lengthAdjust="spacingAndGlyphs">4</text><text x="575.1" y="635.3" textLength="23.3" lengthAdjust="spacingAndGlyphs">5</text><text x="592.4" y="707.3" textLength="46.8" lengthAdjust="spacingAndGlyphs">14</text><text x="592.4" y="751.8" textLength="23.3" lengthAdjust="spacingAndGlyphs">9</text><text x="592.4" y="797.3" textLength="46.8" lengthAdjust="spacingAndGlyphs">10</text><text x="221.9" y="772.3" textLength="46.8" lengthAdjust="spacingAndGlyphs">18</text><text x="336.4" y="787.8" textLength="46.8" lengthAdjust="spacingAndGlyphs">17</text><text x="419.1" y="804.8" textLength="46.8" lengthAdjust="spacingAndGlyphs">15</text><text x="32.6" y="821.8" textLength="46.8" lengthAdjust="spacingAndGlyphs">18</text><text x="32.6" y="977.8" textLength="46.8" lengthAdjust="spacingAndGlyphs">18</text><text x="109.4" y="1060.3" textLength="46.8" lengthAdjust="spacingAndGlyphs">17</text><text x="258.6" y="1068.8" textLength="46.8" lengthAdjust="spacingAndGlyphs">14</text><text x="288.6" y="1151.2" textLength="46.8" lengthAdjust="spacingAndGlyphs">11</text><text x="288.6" y="1197.5" textLength="46.8" lengthAdjust="spacingAndGlyphs">12</text><text x="288.6" y="1243.4" textLength="46.8" lengthAdjust="spacingAndGlyphs">10</text><text x="288.6" y="1289.0" textLength="46.8" lengthAdjust="spacingAndGlyphs">13</text><text x="288.6" y="1334.6" textLength="46.8" lengthAdjust="spacingAndGlyphs">16</text><text x="612.4" y="885.3" textLength="23.3" lengthAdjust="spacingAndGlyphs">9</text><text x="608.6" y="1091.3" textLength="23.3" lengthAdjust="spacingAndGlyphs">9</text><text x="701.9" y="1169.8" textLength="23.3" lengthAdjust="spacingAndGlyphs">6</text><text x="1145.4" y="424.8" textLength="23.3" lengthAdjust="spacingAndGlyphs">2</text><text x="928.4" y="522.8" textLength="23.3" lengthAdjust="spacingAndGlyphs">3</text><text x="1296.7" y="431.3" textLength="23.3" lengthAdjust="spacingAndGlyphs">1</text><text x="1136.7" y="638.8" textLength="23.3" lengthAdjust="spacingAndGlyphs">2</text><text x="928.4" y="751.8" textLength="23.3" lengthAdjust="spacingAndGlyphs">3</text><text x="1095.7" y="816.8" textLength="73.7" lengthAdjust="spacingAndGlyphs">P.22</text><text x="1648.4" y="688.8" textLength="73.7" lengthAdjust="spacingAndGlyphs">P.22</text><text x="1174.7" y="917.8" textLength="23.3" lengthAdjust="spacingAndGlyphs">3</text><text x="1437.2" y="882.8" textLength="23.3" lengthAdjust="spacingAndGlyphs">3</text><text x="1053.7" y="1047.8" textLength="23.3" lengthAdjust="spacingAndGlyphs">7</text><text x="918.6" y="1262.8" textLength="23.3" lengthAdjust="spacingAndGlyphs">8</text><text x="1108.2" y="1227.3" textLength="46.8" lengthAdjust="spacingAndGlyphs">26</text><text x="1207.7" y="1326.8" textLength="46.8" lengthAdjust="spacingAndGlyphs">25</text><text x="1207.7" y="1371.8" textLength="46.8" lengthAdjust="spacingAndGlyphs">24</text><text x="902.4" y="1379.8" textLength="46.8" lengthAdjust="spacingAndGlyphs">21</text><text x="1414.2" y="1442.3" textLength="46.8" lengthAdjust="spacingAndGlyphs">28</text><text x="1103.2" y="1673.3" textLength="46.8" lengthAdjust="spacingAndGlyphs">29</text><text x="1234.4" y="1771.8" textLength="73.7" lengthAdjust="spacingAndGlyphs">P.34</text><text x="1414.2" y="1837.3" textLength="46.8" lengthAdjust="spacingAndGlyphs">28</text><text x="730.1" y="1939.3" textLength="46.8" lengthAdjust="spacingAndGlyphs">22</text><text x="1103.2" y="2066.8" textLength="46.8" lengthAdjust="spacingAndGlyphs">29</text><text x="996.4" y="2304.8" textLength="46.8" lengthAdjust="spacingAndGlyphs">23</text><text x="1392.5" y="1272.5" textLength="46.8" lengthAdjust="spacingAndGlyphs">27</text>
</g>
<g font-size="38.5" text-anchor="middle" fill="#000" stroke="#000" stroke-width="0.5" stroke-linejoin="round">
<text x="308.6" y="210.3" textLength="46.8" lengthAdjust="spacingAndGlyphs">20</text><text x="284.4" y="563.8" textLength="46.8" lengthAdjust="spacingAndGlyphs">19</text><text x="575.1" y="481.3" textLength="23.3" lengthAdjust="spacingAndGlyphs">4</text><text x="575.1" y="635.3" textLength="23.3" lengthAdjust="spacingAndGlyphs">5</text><text x="592.4" y="707.3" textLength="46.8" lengthAdjust="spacingAndGlyphs">14</text><text x="592.4" y="751.8" textLength="23.3" lengthAdjust="spacingAndGlyphs">9</text><text x="592.4" y="797.3" textLength="46.8" lengthAdjust="spacingAndGlyphs">10</text><text x="221.9" y="772.3" textLength="46.8" lengthAdjust="spacingAndGlyphs">18</text><text x="336.4" y="787.8" textLength="46.8" lengthAdjust="spacingAndGlyphs">17</text><text x="419.1" y="804.8" textLength="46.8" lengthAdjust="spacingAndGlyphs">15</text><text x="32.6" y="821.8" textLength="46.8" lengthAdjust="spacingAndGlyphs">18</text><text x="32.6" y="977.8" textLength="46.8" lengthAdjust="spacingAndGlyphs">18</text><text x="109.4" y="1060.3" textLength="46.8" lengthAdjust="spacingAndGlyphs">17</text><text x="258.6" y="1068.8" textLength="46.8" lengthAdjust="spacingAndGlyphs">14</text><text x="288.6" y="1151.2" textLength="46.8" lengthAdjust="spacingAndGlyphs">11</text><text x="288.6" y="1197.5" textLength="46.8" lengthAdjust="spacingAndGlyphs">12</text><text x="288.6" y="1243.4" textLength="46.8" lengthAdjust="spacingAndGlyphs">10</text><text x="288.6" y="1289.0" textLength="46.8" lengthAdjust="spacingAndGlyphs">13</text><text x="288.6" y="1334.6" textLength="46.8" lengthAdjust="spacingAndGlyphs">16</text><text x="612.4" y="885.3" textLength="23.3" lengthAdjust="spacingAndGlyphs">9</text><text x="608.6" y="1091.3" textLength="23.3" lengthAdjust="spacingAndGlyphs">9</text><text x="701.9" y="1169.8" textLength="23.3" lengthAdjust="spacingAndGlyphs">6</text><text x="1145.4" y="424.8" textLength="23.3" lengthAdjust="spacingAndGlyphs">2</text><text x="928.4" y="522.8" textLength="23.3" lengthAdjust="spacingAndGlyphs">3</text><text x="1296.7" y="431.3" textLength="23.3" lengthAdjust="spacingAndGlyphs">1</text><text x="1136.7" y="638.8" textLength="23.3" lengthAdjust="spacingAndGlyphs">2</text><text x="928.4" y="751.8" textLength="23.3" lengthAdjust="spacingAndGlyphs">3</text><text x="1095.7" y="816.8" textLength="73.7" lengthAdjust="spacingAndGlyphs">P.22</text><text x="1648.4" y="688.8" textLength="73.7" lengthAdjust="spacingAndGlyphs">P.22</text><text x="1174.7" y="917.8" textLength="23.3" lengthAdjust="spacingAndGlyphs">3</text><text x="1437.2" y="882.8" textLength="23.3" lengthAdjust="spacingAndGlyphs">3</text><text x="1053.7" y="1047.8" textLength="23.3" lengthAdjust="spacingAndGlyphs">7</text><text x="918.6" y="1262.8" textLength="23.3" lengthAdjust="spacingAndGlyphs">8</text><text x="1108.2" y="1227.3" textLength="46.8" lengthAdjust="spacingAndGlyphs">26</text><text x="1207.7" y="1326.8" textLength="46.8" lengthAdjust="spacingAndGlyphs">25</text><text x="1207.7" y="1371.8" textLength="46.8" lengthAdjust="spacingAndGlyphs">24</text><text x="902.4" y="1379.8" textLength="46.8" lengthAdjust="spacingAndGlyphs">21</text><text x="1414.2" y="1442.3" textLength="46.8" lengthAdjust="spacingAndGlyphs">28</text><text x="1103.2" y="1673.3" textLength="46.8" lengthAdjust="spacingAndGlyphs">29</text><text x="1234.4" y="1771.8" textLength="73.7" lengthAdjust="spacingAndGlyphs">P.34</text><text x="1414.2" y="1837.3" textLength="46.8" lengthAdjust="spacingAndGlyphs">28</text><text x="730.1" y="1939.3" textLength="46.8" lengthAdjust="spacingAndGlyphs">22</text><text x="1103.2" y="2066.8" textLength="46.8" lengthAdjust="spacingAndGlyphs">29</text><text x="996.4" y="2304.8" textLength="46.8" lengthAdjust="spacingAndGlyphs">23</text><text x="1392.5" y="1272.5" textLength="46.8" lengthAdjust="spacingAndGlyphs">27</text>
</g>
</g>

</svg>
</body></html>
